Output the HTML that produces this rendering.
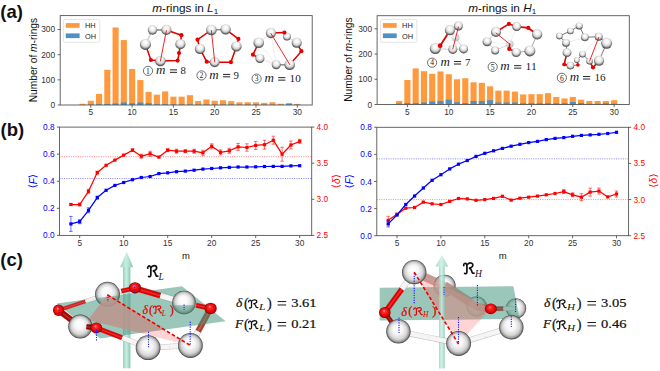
<!DOCTYPE html><html><head><meta charset="utf-8"><style>html,body{margin:0;padding:0;background:#fff;}svg{display:block;}</style></head><body>
<svg width="660" height="371" viewBox="0 0 660 371">
<rect width="660" height="371" fill="#fff"/>
<defs>
<radialGradient id="sph" cx="0.5" cy="0.42" r="0.6" fx="0.5" fy="0.3">
<stop offset="0" stop-color="#ffffff"/><stop offset="0.35" stop-color="#f4f4f4"/><stop offset="0.62" stop-color="#d2d2d2"/><stop offset="0.8" stop-color="#808080"/><stop offset="1" stop-color="#303030"/></radialGradient>
<radialGradient id="oxy" cx="0.38" cy="0.32" r="0.75">
<stop offset="0" stop-color="#ff8080"/><stop offset="0.4" stop-color="#f00000"/><stop offset="1" stop-color="#9a0000"/></radialGradient>
<radialGradient id="sphg" cx="0.38" cy="0.32" r="0.75">
<stop offset="0" stop-color="#ffffff" stop-opacity="0.7"/><stop offset="1" stop-color="#999" stop-opacity="0.7"/></radialGradient>
</defs>
<defs>
<radialGradient id="big" cx="0.5" cy="0.5" r="0.5" fx="0.45" fy="0.36">
<stop offset="0" stop-color="#ffffff"/><stop offset="0.4" stop-color="#f7f7f7"/><stop offset="0.72" stop-color="#d6d6d6"/><stop offset="0.88" stop-color="#a0a0a0"/><stop offset="1" stop-color="#3c3c3c"/></radialGradient>
<radialGradient id="redb" cx="0.5" cy="0.5" r="0.5" fx="0.42" fy="0.34">
<stop offset="0" stop-color="#ffb0b0"/><stop offset="0.25" stop-color="#ff2a2a"/><stop offset="0.8" stop-color="#e00000"/><stop offset="1" stop-color="#700000"/></radialGradient>
<clipPath id="planeL"><polygon points="56.6,303.6 182,286.3 225.7,321.3 100,338.5"/></clipPath>
<clipPath id="planeR"><polygon points="379.7,287.8 513.4,286.2 519.5,318.8 379.7,320.6"/></clipPath>
<clipPath id="lowTL"><polygon points="90,299 125,294.5 125,310 90,310"/></clipPath><clipPath id="lowTR"><rect x="160" y="305.2" width="50" height="20"/></clipPath>
<linearGradient id="arrowg" x1="0" x2="1" y1="0" y2="0">
<stop offset="0" stop-color="#8fd1bd"/><stop offset="0.45" stop-color="#c9efe3"/><stop offset="1" stop-color="#86c9b4"/></linearGradient>
</defs>
<text x="0.3" y="18.3" font-size="18.5" fill="#111" text-anchor="start" font-family='"Liberation Sans", sans-serif' font-weight="bold" font-style="normal" >(a)</text>
<text x="0.5" y="136.3" font-size="18.5" fill="#111" text-anchor="start" font-family='"Liberation Sans", sans-serif' font-weight="bold" font-style="normal" >(b)</text>
<text x="0.3" y="265.8" font-size="18.5" fill="#111" text-anchor="start" font-family='"Liberation Sans", sans-serif' font-weight="bold" font-style="normal" >(c)</text>
<rect x="79.48" y="103.74" width="6.11" height="1.26" fill="#ff993e"/>
<rect x="87.74" y="100.72" width="6.11" height="4.28" fill="#ff993e"/>
<rect x="96" y="93.93" width="6.11" height="11.07" fill="#ff993e"/>
<rect x="104.26" y="69.76" width="6.11" height="35.24" fill="#ff993e"/>
<rect x="112.52" y="27.48" width="6.11" height="77.52" fill="#ff993e"/>
<rect x="120.78" y="40.06" width="6.11" height="64.94" fill="#ff993e"/>
<rect x="129.04" y="69.01" width="6.11" height="35.99" fill="#ff993e"/>
<rect x="137.3" y="80.08" width="6.11" height="24.92" fill="#ff993e"/>
<rect x="145.56" y="91.91" width="6.11" height="13.09" fill="#ff993e"/>
<rect x="153.82" y="94.68" width="6.11" height="10.32" fill="#ff993e"/>
<rect x="162.08" y="91.41" width="6.11" height="13.59" fill="#ff993e"/>
<rect x="170.34" y="96.69" width="6.11" height="8.31" fill="#ff993e"/>
<rect x="178.6" y="96.69" width="6.11" height="8.31" fill="#ff993e"/>
<rect x="186.86" y="95.18" width="6.11" height="9.82" fill="#ff993e"/>
<rect x="195.12" y="100.97" width="6.11" height="4.03" fill="#ff993e"/>
<rect x="203.38" y="99.46" width="6.11" height="5.54" fill="#ff993e"/>
<rect x="211.64" y="100.72" width="6.11" height="4.28" fill="#ff993e"/>
<rect x="219.9" y="100.22" width="6.11" height="4.78" fill="#ff993e"/>
<rect x="228.16" y="101.1" width="6.11" height="3.9" fill="#ff993e"/>
<rect x="236.42" y="102.31" width="6.11" height="2.69" fill="#ff993e"/>
<rect x="244.68" y="102.23" width="6.11" height="2.77" fill="#ff993e"/>
<rect x="252.94" y="102.31" width="6.11" height="2.69" fill="#ff993e"/>
<rect x="261.2" y="102.86" width="6.11" height="2.14" fill="#ff993e"/>
<rect x="269.46" y="102.23" width="6.11" height="2.77" fill="#ff993e"/>
<rect x="277.72" y="103.74" width="6.11" height="1.26" fill="#ff993e"/>
<rect x="285.98" y="102.99" width="6.11" height="2.01" fill="#ff993e"/>
<rect x="294.24" y="103.87" width="6.11" height="1.13" fill="#ff993e"/>
<rect x="87.74" y="104.62" width="6.11" height="0.38" fill="#4c92c3"/>
<rect x="96" y="104.24" width="6.11" height="0.76" fill="#4c92c3"/>
<rect x="104.26" y="103.99" width="6.11" height="1.01" fill="#4c92c3"/>
<rect x="112.52" y="103.49" width="6.11" height="1.51" fill="#4c92c3"/>
<rect x="120.78" y="102.48" width="6.11" height="2.52" fill="#4c92c3"/>
<rect x="129.04" y="103.24" width="6.11" height="1.76" fill="#4c92c3"/>
<rect x="137.3" y="102.48" width="6.11" height="2.52" fill="#4c92c3"/>
<rect x="145.56" y="103.24" width="6.11" height="1.76" fill="#4c92c3"/>
<rect x="153.82" y="104.24" width="6.11" height="0.76" fill="#4c92c3"/>
<rect x="162.08" y="104.24" width="6.11" height="0.76" fill="#4c92c3"/>
<rect x="170.34" y="104.5" width="6.11" height="0.5" fill="#4c92c3"/>
<rect x="178.6" y="104.5" width="6.11" height="0.5" fill="#4c92c3"/>
<rect x="186.86" y="104.5" width="6.11" height="0.5" fill="#4c92c3"/>
<rect x="195.12" y="104.62" width="6.11" height="0.38" fill="#4c92c3"/>
<rect x="203.38" y="104.62" width="6.11" height="0.38" fill="#4c92c3"/>
<rect x="211.64" y="104.62" width="6.11" height="0.38" fill="#4c92c3"/>
<rect x="219.9" y="104.62" width="6.11" height="0.38" fill="#4c92c3"/>
<rect x="228.16" y="104.62" width="6.11" height="0.38" fill="#4c92c3"/>
<rect x="236.42" y="104.75" width="6.11" height="0.25" fill="#4c92c3"/>
<rect x="244.68" y="104.75" width="6.11" height="0.25" fill="#4c92c3"/>
<rect x="252.94" y="104.62" width="6.11" height="0.38" fill="#4c92c3"/>
<rect x="261.2" y="104.75" width="6.11" height="0.25" fill="#4c92c3"/>
<rect x="269.46" y="104.75" width="6.11" height="0.25" fill="#4c92c3"/>
<rect x="277.72" y="104.75" width="6.11" height="0.25" fill="#4c92c3"/>
<rect x="285.98" y="103.99" width="6.11" height="1.01" fill="#4c92c3"/>
<rect x="294.24" y="104.75" width="6.11" height="0.25" fill="#4c92c3"/>
<rect x="60.2" y="15.6" width="252" height="89.4" fill="none" stroke="#555555" stroke-width="0.9"/>
<line x1="57.6" y1="105" x2="60.2" y2="105" stroke="#555555" stroke-width="0.9"/>
<text x="55.1" y="108" font-size="8.3" fill="#333" text-anchor="end" font-family='"Liberation Sans", sans-serif' font-weight="normal" font-style="normal" >0</text>
<line x1="57.6" y1="79.83" x2="60.2" y2="79.83" stroke="#555555" stroke-width="0.9"/>
<text x="55.1" y="82.83" font-size="8.3" fill="#333" text-anchor="end" font-family='"Liberation Sans", sans-serif' font-weight="normal" font-style="normal" >100</text>
<line x1="57.6" y1="54.66" x2="60.2" y2="54.66" stroke="#555555" stroke-width="0.9"/>
<text x="55.1" y="57.66" font-size="8.3" fill="#333" text-anchor="end" font-family='"Liberation Sans", sans-serif' font-weight="normal" font-style="normal" >200</text>
<line x1="57.6" y1="29.49" x2="60.2" y2="29.49" stroke="#555555" stroke-width="0.9"/>
<text x="55.1" y="32.49" font-size="8.3" fill="#333" text-anchor="end" font-family='"Liberation Sans", sans-serif' font-weight="normal" font-style="normal" >300</text>
<line x1="90.8" y1="105" x2="90.8" y2="107.6" stroke="#555555" stroke-width="0.9"/>
<text x="90.8" y="115.1" font-size="8.3" fill="#333" text-anchor="middle" font-family='"Liberation Sans", sans-serif' font-weight="normal" font-style="normal" >5</text>
<line x1="132.1" y1="105" x2="132.1" y2="107.6" stroke="#555555" stroke-width="0.9"/>
<text x="132.1" y="115.1" font-size="8.3" fill="#333" text-anchor="middle" font-family='"Liberation Sans", sans-serif' font-weight="normal" font-style="normal" >10</text>
<line x1="173.4" y1="105" x2="173.4" y2="107.6" stroke="#555555" stroke-width="0.9"/>
<text x="173.4" y="115.1" font-size="8.3" fill="#333" text-anchor="middle" font-family='"Liberation Sans", sans-serif' font-weight="normal" font-style="normal" >15</text>
<line x1="214.7" y1="105" x2="214.7" y2="107.6" stroke="#555555" stroke-width="0.9"/>
<text x="214.7" y="115.1" font-size="8.3" fill="#333" text-anchor="middle" font-family='"Liberation Sans", sans-serif' font-weight="normal" font-style="normal" >20</text>
<line x1="256" y1="105" x2="256" y2="107.6" stroke="#555555" stroke-width="0.9"/>
<text x="256" y="115.1" font-size="8.3" fill="#333" text-anchor="middle" font-family='"Liberation Sans", sans-serif' font-weight="normal" font-style="normal" >25</text>
<line x1="297.3" y1="105" x2="297.3" y2="107.6" stroke="#555555" stroke-width="0.9"/>
<text x="297.3" y="115.1" font-size="8.3" fill="#333" text-anchor="middle" font-family='"Liberation Sans", sans-serif' font-weight="normal" font-style="normal" >30</text>
<rect x="396.07" y="100.97" width="6.12" height="3.53" fill="#ff993e"/>
<rect x="404.34" y="80.03" width="6.12" height="24.47" fill="#ff993e"/>
<rect x="412.61" y="68.42" width="6.12" height="36.08" fill="#ff993e"/>
<rect x="420.88" y="71.2" width="6.12" height="33.3" fill="#ff993e"/>
<rect x="429.15" y="73.72" width="6.12" height="30.78" fill="#ff993e"/>
<rect x="437.42" y="71.45" width="6.12" height="33.05" fill="#ff993e"/>
<rect x="445.69" y="74.22" width="6.12" height="30.28" fill="#ff993e"/>
<rect x="453.96" y="79.27" width="6.12" height="25.23" fill="#ff993e"/>
<rect x="462.23" y="78.26" width="6.12" height="26.24" fill="#ff993e"/>
<rect x="470.5" y="82.3" width="6.12" height="22.2" fill="#ff993e"/>
<rect x="478.77" y="82.8" width="6.12" height="21.7" fill="#ff993e"/>
<rect x="487.04" y="86.33" width="6.12" height="18.17" fill="#ff993e"/>
<rect x="495.31" y="90.62" width="6.12" height="13.88" fill="#ff993e"/>
<rect x="503.58" y="90.62" width="6.12" height="13.88" fill="#ff993e"/>
<rect x="511.85" y="91.63" width="6.12" height="12.87" fill="#ff993e"/>
<rect x="520.12" y="94.41" width="6.12" height="10.09" fill="#ff993e"/>
<rect x="528.39" y="94.16" width="6.12" height="10.34" fill="#ff993e"/>
<rect x="536.66" y="94.16" width="6.12" height="10.34" fill="#ff993e"/>
<rect x="544.93" y="93.15" width="6.12" height="11.35" fill="#ff993e"/>
<rect x="553.2" y="96.93" width="6.12" height="7.57" fill="#ff993e"/>
<rect x="561.47" y="98.44" width="6.12" height="6.06" fill="#ff993e"/>
<rect x="569.74" y="96.93" width="6.12" height="7.57" fill="#ff993e"/>
<rect x="578.01" y="99.71" width="6.12" height="4.79" fill="#ff993e"/>
<rect x="586.28" y="100.97" width="6.12" height="3.53" fill="#ff993e"/>
<rect x="594.55" y="100.97" width="6.12" height="3.53" fill="#ff993e"/>
<rect x="602.82" y="100.97" width="6.12" height="3.53" fill="#ff993e"/>
<rect x="611.09" y="100.21" width="6.12" height="4.29" fill="#ff993e"/>
<rect x="396.07" y="103.49" width="6.12" height="1.01" fill="#4c92c3"/>
<rect x="404.34" y="102.99" width="6.12" height="1.51" fill="#4c92c3"/>
<rect x="412.61" y="102.99" width="6.12" height="1.51" fill="#4c92c3"/>
<rect x="420.88" y="102.48" width="6.12" height="2.02" fill="#4c92c3"/>
<rect x="429.15" y="101.47" width="6.12" height="3.03" fill="#4c92c3"/>
<rect x="437.42" y="100.97" width="6.12" height="3.53" fill="#4c92c3"/>
<rect x="445.69" y="99.71" width="6.12" height="4.79" fill="#4c92c3"/>
<rect x="453.96" y="102.23" width="6.12" height="2.27" fill="#4c92c3"/>
<rect x="462.23" y="102.99" width="6.12" height="1.51" fill="#4c92c3"/>
<rect x="470.5" y="100.97" width="6.12" height="3.53" fill="#4c92c3"/>
<rect x="478.77" y="100.97" width="6.12" height="3.53" fill="#4c92c3"/>
<rect x="487.04" y="100.21" width="6.12" height="4.29" fill="#4c92c3"/>
<rect x="495.31" y="102.48" width="6.12" height="2.02" fill="#4c92c3"/>
<rect x="503.58" y="102.48" width="6.12" height="2.02" fill="#4c92c3"/>
<rect x="511.85" y="102.48" width="6.12" height="2.02" fill="#4c92c3"/>
<rect x="520.12" y="103.24" width="6.12" height="1.26" fill="#4c92c3"/>
<rect x="528.39" y="103.24" width="6.12" height="1.26" fill="#4c92c3"/>
<rect x="536.66" y="103.24" width="6.12" height="1.26" fill="#4c92c3"/>
<rect x="544.93" y="103.24" width="6.12" height="1.26" fill="#4c92c3"/>
<rect x="553.2" y="103.24" width="6.12" height="1.26" fill="#4c92c3"/>
<rect x="561.47" y="103.24" width="6.12" height="1.26" fill="#4c92c3"/>
<rect x="569.74" y="101.98" width="6.12" height="2.52" fill="#4c92c3"/>
<rect x="578.01" y="102.99" width="6.12" height="1.51" fill="#4c92c3"/>
<rect x="586.28" y="103.74" width="6.12" height="0.76" fill="#4c92c3"/>
<rect x="594.55" y="103.74" width="6.12" height="0.76" fill="#4c92c3"/>
<rect x="602.82" y="103.24" width="6.12" height="1.26" fill="#4c92c3"/>
<rect x="611.09" y="103.74" width="6.12" height="0.76" fill="#4c92c3"/>
<rect x="377.1" y="15.7" width="252.2" height="88.8" fill="none" stroke="#555555" stroke-width="0.9"/>
<line x1="374.5" y1="104.5" x2="377.1" y2="104.5" stroke="#555555" stroke-width="0.9"/>
<text x="372" y="107.5" font-size="8.3" fill="#333" text-anchor="end" font-family='"Liberation Sans", sans-serif' font-weight="normal" font-style="normal" >0</text>
<line x1="374.5" y1="79.27" x2="377.1" y2="79.27" stroke="#555555" stroke-width="0.9"/>
<text x="372" y="82.27" font-size="8.3" fill="#333" text-anchor="end" font-family='"Liberation Sans", sans-serif' font-weight="normal" font-style="normal" >100</text>
<line x1="374.5" y1="54.04" x2="377.1" y2="54.04" stroke="#555555" stroke-width="0.9"/>
<text x="372" y="57.04" font-size="8.3" fill="#333" text-anchor="end" font-family='"Liberation Sans", sans-serif' font-weight="normal" font-style="normal" >200</text>
<line x1="374.5" y1="28.81" x2="377.1" y2="28.81" stroke="#555555" stroke-width="0.9"/>
<text x="372" y="31.81" font-size="8.3" fill="#333" text-anchor="end" font-family='"Liberation Sans", sans-serif' font-weight="normal" font-style="normal" >300</text>
<line x1="407.4" y1="104.5" x2="407.4" y2="107.1" stroke="#555555" stroke-width="0.9"/>
<text x="407.4" y="114.6" font-size="8.3" fill="#333" text-anchor="middle" font-family='"Liberation Sans", sans-serif' font-weight="normal" font-style="normal" >5</text>
<line x1="448.75" y1="104.5" x2="448.75" y2="107.1" stroke="#555555" stroke-width="0.9"/>
<text x="448.75" y="114.6" font-size="8.3" fill="#333" text-anchor="middle" font-family='"Liberation Sans", sans-serif' font-weight="normal" font-style="normal" >10</text>
<line x1="490.1" y1="104.5" x2="490.1" y2="107.1" stroke="#555555" stroke-width="0.9"/>
<text x="490.1" y="114.6" font-size="8.3" fill="#333" text-anchor="middle" font-family='"Liberation Sans", sans-serif' font-weight="normal" font-style="normal" >15</text>
<line x1="531.45" y1="104.5" x2="531.45" y2="107.1" stroke="#555555" stroke-width="0.9"/>
<text x="531.45" y="114.6" font-size="8.3" fill="#333" text-anchor="middle" font-family='"Liberation Sans", sans-serif' font-weight="normal" font-style="normal" >20</text>
<line x1="572.8" y1="104.5" x2="572.8" y2="107.1" stroke="#555555" stroke-width="0.9"/>
<text x="572.8" y="114.6" font-size="8.3" fill="#333" text-anchor="middle" font-family='"Liberation Sans", sans-serif' font-weight="normal" font-style="normal" >25</text>
<line x1="614.15" y1="104.5" x2="614.15" y2="107.1" stroke="#555555" stroke-width="0.9"/>
<text x="614.15" y="114.6" font-size="8.3" fill="#333" text-anchor="middle" font-family='"Liberation Sans", sans-serif' font-weight="normal" font-style="normal" >30</text>
<rect x="63.4" y="19.4" width="36.4" height="22.9" rx="1.5" fill="#fff" fill-opacity="0.85" stroke="#dadada" stroke-width="0.7"/>
<rect x="65.8" y="23.1" width="13.8" height="4.7" fill="#ff993e"/>
<rect x="65.8" y="33.4" width="13.8" height="4.7" fill="#4c92c3"/>
<text x="85" y="28.3" font-size="7.4" fill="#222" text-anchor="start" font-family='"Liberation Sans", sans-serif' font-weight="normal" font-style="normal" >HH</text>
<text x="85" y="38.6" font-size="7.4" fill="#222" text-anchor="start" font-family='"Liberation Sans", sans-serif' font-weight="normal" font-style="normal" >OH</text>
<rect x="380.5" y="19.4" width="36.4" height="22.9" rx="1.5" fill="#fff" fill-opacity="0.85" stroke="#dadada" stroke-width="0.7"/>
<rect x="382.9" y="23.1" width="13.8" height="4.7" fill="#ff993e"/>
<rect x="382.9" y="33.4" width="13.8" height="4.7" fill="#4c92c3"/>
<text x="402.1" y="28.3" font-size="7.4" fill="#222" text-anchor="start" font-family='"Liberation Sans", sans-serif' font-weight="normal" font-style="normal" >HH</text>
<text x="402.1" y="38.6" font-size="7.4" fill="#222" text-anchor="start" font-family='"Liberation Sans", sans-serif' font-weight="normal" font-style="normal" >OH</text>
<text transform="translate(36.8,60.1) rotate(-90)" font-size="10.2" fill="#111" text-anchor="middle" font-family='"Liberation Sans", sans-serif'>Number of <tspan font-style="italic">m</tspan>-rings</text>
<text transform="translate(352.3,59.6) rotate(-90)" font-size="10.2" fill="#111" text-anchor="middle" font-family='"Liberation Sans", sans-serif'>Number of <tspan font-style="italic">m</tspan>-rings</text>
<text x="152.2" y="11.8" font-size="10.2" fill="#111" font-family='"Liberation Sans", sans-serif' textLength="66" lengthAdjust="spacingAndGlyphs"><tspan font-style="italic">m</tspan>-rings in <tspan font-style="italic">L</tspan><tspan font-size="7" dy="1.8">1</tspan></text>
<text x="468.2" y="11.8" font-size="10.2" fill="#111" font-family='"Liberation Sans", sans-serif' textLength="68" lengthAdjust="spacingAndGlyphs"><tspan font-style="italic">m</tspan>-rings in <tspan font-style="italic">H</tspan><tspan font-size="7" dy="1.8">1</tspan></text>
<polyline points="152.5,30 145.4,44.4 150.9,60 160.4,61 177.6,60.6 180.4,44.2 181.4,35.2 166.4,30 152.5,30" fill="none" stroke="#cfcfcf" stroke-width="0.6" stroke-opacity="1" stroke-linecap="round" stroke-linejoin="round"/>
<polyline points="145.4,44.4 166.4,30" fill="none" stroke="#e2e2e2" stroke-width="0.5" stroke-opacity="1" stroke-linecap="round" stroke-linejoin="round"/>
<polyline points="152.5,30 166.4,30" fill="none" stroke="#8a8a8a" stroke-width="1.3" stroke-opacity="1" stroke-linecap="round" stroke-linejoin="round"/>
<polyline points="152.5,30 145.4,44.4" fill="none" stroke="#d0d0d0" stroke-width="1.3" stroke-opacity="1" stroke-linecap="round" stroke-linejoin="round"/>
<polyline points="166.4,30 181.4,35.2 180.4,44.2" fill="none" stroke="#e00000" stroke-width="1.5" stroke-opacity="1" stroke-linecap="round" stroke-linejoin="round"/>
<polyline points="180.4,44.2 179,54 177.6,60.6 160.4,61" fill="none" stroke="#e00000" stroke-width="1.5" stroke-opacity="1" stroke-linecap="round" stroke-linejoin="round"/>
<polyline points="145.4,44.4 150.9,60 160.4,61" fill="none" stroke="#e00000" stroke-width="1.5" stroke-opacity="1" stroke-linecap="round" stroke-linejoin="round"/>
<circle cx="152.5" cy="30" r="4.73" fill="url(#sph)"/>
<circle cx="166.4" cy="30" r="5.06" fill="url(#sph)"/>
<circle cx="145.4" cy="44.4" r="5.5" fill="url(#sph)"/>
<circle cx="180.4" cy="44.2" r="5.06" fill="url(#sph)"/>
<circle cx="160.4" cy="61" r="5.28" fill="url(#sph)"/>
<circle cx="181.4" cy="35.2" r="2.08" fill="#e80000"/>
<circle cx="150.9" cy="60" r="2.08" fill="#e80000"/>
<circle cx="177.6" cy="60.6" r="2.08" fill="#e80000"/>
<circle cx="179" cy="53" r="2.08" fill="#e80000"/>
<polyline points="166.4,30.5 160.4,61" fill="none" stroke="#e81010" stroke-width="0.9" stroke-opacity="1" stroke-linecap="round" stroke-linejoin="round"/>
<polyline points="211.4,30 225.6,29.4 238.4,38.9 236.4,46.4 230.9,62.2 214.7,62.2 206.7,61.7 200,48.9 197.5,39.7 211.4,30" fill="none" stroke="#d8d8d8" stroke-width="0.6" stroke-opacity="1" stroke-linecap="round" stroke-linejoin="round"/>
<polyline points="211.4,30 225.6,29.4" fill="none" stroke="#8a8a8a" stroke-width="1.3" stroke-opacity="1" stroke-linecap="round" stroke-linejoin="round"/>
<polyline points="211.4,30 197.5,39.7 200,48.9" fill="none" stroke="#e00000" stroke-width="1.5" stroke-opacity="1" stroke-linecap="round" stroke-linejoin="round"/>
<polyline points="225.6,29.4 238.4,38.9 236.4,46.4" fill="none" stroke="#e00000" stroke-width="1.5" stroke-opacity="1" stroke-linecap="round" stroke-linejoin="round"/>
<polyline points="200,48.9 206.7,61.7 214.7,62.2" fill="none" stroke="#e00000" stroke-width="1.5" stroke-opacity="1" stroke-linecap="round" stroke-linejoin="round"/>
<polyline points="214.7,62.2 230.9,62.2 236.4,46.4" fill="none" stroke="#e00000" stroke-width="1.5" stroke-opacity="1" stroke-linecap="round" stroke-linejoin="round"/>
<circle cx="211.4" cy="30" r="5.28" fill="url(#sph)"/>
<circle cx="225.6" cy="29.4" r="5.17" fill="url(#sph)"/>
<circle cx="200" cy="48.9" r="5.17" fill="url(#sph)"/>
<circle cx="236.4" cy="46.4" r="5.17" fill="url(#sph)"/>
<circle cx="214.7" cy="62.2" r="4.95" fill="url(#sph)"/>
<circle cx="197.5" cy="39.7" r="2.08" fill="#e80000"/>
<circle cx="238.4" cy="38.9" r="2.08" fill="#e80000"/>
<circle cx="206.7" cy="61.7" r="2.08" fill="#e80000"/>
<circle cx="230.9" cy="62.2" r="2.08" fill="#e80000"/>
<polyline points="211.4,30.5 214.7,62" fill="none" stroke="#e81010" stroke-width="0.9" stroke-opacity="1" stroke-linecap="round" stroke-linejoin="round"/>
<polyline points="258.7,42.8 276.2,64.7" fill="none" stroke="#dddddd" stroke-width="0.5" stroke-opacity="1" stroke-linecap="round" stroke-linejoin="round"/>
<polyline points="270.9,33.1 276.2,64.7" fill="none" stroke="#dddddd" stroke-width="0.5" stroke-opacity="1" stroke-linecap="round" stroke-linejoin="round"/>
<polyline points="270.9,33.1 258.7,42.8 252.9,54.7 259.9,58.5 276.2,64.7 289.7,64.7 301.4,51.2 296.7,42.8 287,36.6 284.4,32.6 270.9,33.1" fill="none" stroke="#d8d8d8" stroke-width="0.7" stroke-opacity="1" stroke-linecap="round" stroke-linejoin="round"/>
<polyline points="276.2,64.7 289.7,64.7" fill="none" stroke="#8a8a8a" stroke-width="1.4" stroke-opacity="1" stroke-linecap="round" stroke-linejoin="round"/>
<polyline points="270.9,33.1 284.4,32.6 287,36.6" fill="none" stroke="#e00000" stroke-width="1.5" stroke-opacity="1" stroke-linecap="round" stroke-linejoin="round"/>
<polyline points="296.7,42.8 301.4,51.2 289.7,64.7" fill="none" stroke="#e00000" stroke-width="1.5" stroke-opacity="1" stroke-linecap="round" stroke-linejoin="round"/>
<polyline points="258.7,42.8 252.9,54.7 259.9,58.5" fill="none" stroke="#e00000" stroke-width="1.5" stroke-opacity="1" stroke-linecap="round" stroke-linejoin="round"/>
<circle cx="287" cy="36.6" r="3.96" fill="url(#sph)"/>
<circle cx="270.9" cy="33.1" r="5.06" fill="url(#sph)"/>
<circle cx="258.7" cy="42.8" r="5.28" fill="url(#sph)"/>
<circle cx="259.9" cy="58.5" r="4.51" fill="url(#sph)"/>
<circle cx="276.2" cy="64.7" r="4.51" fill="url(#sph)"/>
<circle cx="289.7" cy="64.7" r="5.28" fill="url(#sph)"/>
<circle cx="296.7" cy="42.8" r="5.06" fill="url(#sph)"/>
<circle cx="284.4" cy="32.6" r="2.08" fill="#e80000"/>
<circle cx="301.4" cy="51.2" r="2.08" fill="#e80000"/>
<circle cx="252.9" cy="54.7" r="2.08" fill="#e80000"/>
<polyline points="270.9,33.5 289.7,64.5" fill="none" stroke="#e81010" stroke-width="0.9" stroke-opacity="1" stroke-linecap="round" stroke-linejoin="round"/>
<polyline points="435.3,48.6 452.8,49.4 463.6,48.9 455.5,37.6" fill="none" stroke="#c8c8c8" stroke-width="0.8" stroke-opacity="1" stroke-linecap="round" stroke-linejoin="round"/>
<circle cx="455.5" cy="37.6" r="3.96" fill="url(#sphg)"/>
<polyline points="447,35 440.2,45.7 435.3,48.6" fill="none" stroke="#e00000" stroke-width="1.8" stroke-opacity="1" stroke-linecap="round" stroke-linejoin="round"/>
<circle cx="449.9" cy="30.3" r="5.06" fill="url(#sph)"/>
<circle cx="458.4" cy="26" r="4.51" fill="url(#sph)"/>
<circle cx="435.3" cy="48.6" r="5.5" fill="url(#sph)"/>
<circle cx="452.8" cy="49.4" r="4.51" fill="url(#sph)"/>
<circle cx="463.6" cy="48.9" r="4.51" fill="url(#sph)"/>
<circle cx="440.2" cy="45.7" r="2.34" fill="#e80000"/>
<polyline points="458.4,27 452.8,49" fill="none" stroke="#e81010" stroke-width="0.9" stroke-opacity="1" stroke-linecap="round" stroke-linejoin="round"/>
<polyline points="487.1,41.7 496,32" fill="none" stroke="#cccccc" stroke-width="0.9" stroke-opacity="1" stroke-linecap="round" stroke-linejoin="round"/>
<polyline points="487.1,41.7 495.2,50.5 509.7,44.1" fill="none" stroke="#d0d0d0" stroke-width="0.9" stroke-opacity="1" stroke-linecap="round" stroke-linejoin="round"/>
<polyline points="487.1,41.7 509.7,44.1" fill="none" stroke="#e5e5e5" stroke-width="0.5" stroke-opacity="1" stroke-linecap="round" stroke-linejoin="round"/>
<polyline points="516.7,26.6 509.7,44.1" fill="none" stroke="#e5e5e5" stroke-width="0.5" stroke-opacity="1" stroke-linecap="round" stroke-linejoin="round"/>
<polyline points="516.2,52.5 529.9,50.9 537.2,34.4" fill="none" stroke="#a0a0a0" stroke-width="0.9" stroke-opacity="1" stroke-linecap="round" stroke-linejoin="round"/>
<polyline points="496,32 508.9,23.9 516.7,26.6" fill="none" stroke="#e00000" stroke-width="1.6" stroke-opacity="1" stroke-linecap="round" stroke-linejoin="round"/>
<polyline points="516.7,26.6 528.3,27.9 537.2,34.4" fill="none" stroke="#e00000" stroke-width="1.8" stroke-opacity="1" stroke-linecap="round" stroke-linejoin="round"/>
<circle cx="509.7" cy="44.1" r="3.96" fill="url(#sphg)"/>
<polyline points="509.7,44.1 509.2,48.9 516.2,52.5" fill="none" stroke="#e00000" stroke-width="1.5" stroke-opacity="1" stroke-linecap="round" stroke-linejoin="round"/>
<circle cx="496" cy="32" r="5.06" fill="url(#sph)"/>
<circle cx="516.7" cy="26.6" r="4.51" fill="url(#sph)"/>
<circle cx="537.2" cy="34.4" r="5.06" fill="url(#sph)"/>
<circle cx="487.1" cy="41.7" r="4.51" fill="url(#sph)"/>
<circle cx="495.2" cy="50.5" r="3.96" fill="url(#sph)"/>
<circle cx="516.2" cy="52.5" r="4.62" fill="url(#sph)"/>
<circle cx="529.9" cy="50.9" r="5.5" fill="url(#sph)"/>
<circle cx="508.9" cy="23.9" r="2.08" fill="#e80000"/>
<circle cx="528.3" cy="27.9" r="2.08" fill="#e80000"/>
<circle cx="509.2" cy="48.9" r="2.08" fill="#e80000"/>
<polyline points="496,33 509.7,44.1" fill="none" stroke="#e81010" stroke-width="0.9" stroke-opacity="1" stroke-linecap="round" stroke-linejoin="round"/>
<polyline points="559.4,36.1 570.4,31 579.2,25.9 584.9,37.3 598.7,36.7 606.6,43.3 599,60.8 593,67.5 589.6,61.2 582.5,54.2 576.8,60.3 577.9,65 570.4,65.6 564.2,64.4 567,52.7 566,42.9 559.4,36.1" fill="none" stroke="#555555" stroke-width="0.8" stroke-opacity="1" stroke-linecap="round" stroke-linejoin="round"/>
<polyline points="566,42.9 584.9,37.3" fill="none" stroke="#dddddd" stroke-width="0.5" stroke-opacity="1" stroke-linecap="round" stroke-linejoin="round"/>
<polyline points="582.5,54.2 598.7,36.7" fill="none" stroke="#dddddd" stroke-width="0.5" stroke-opacity="1" stroke-linecap="round" stroke-linejoin="round"/>
<polyline points="599,60.8 593,67.5 589.6,61.2" fill="none" stroke="#e00000" stroke-width="1.5" stroke-opacity="1" stroke-linecap="round" stroke-linejoin="round"/>
<polyline points="567,52.7 564.2,64.4 570.4,65.6" fill="none" stroke="#e00000" stroke-width="1.5" stroke-opacity="1" stroke-linecap="round" stroke-linejoin="round"/>
<polyline points="576.8,60.3 577.9,65" fill="none" stroke="#e00000" stroke-width="1.3" stroke-opacity="1" stroke-linecap="round" stroke-linejoin="round"/>
<circle cx="559.4" cy="36.1" r="3.3" fill="url(#sph)"/>
<circle cx="570.4" cy="31" r="3.3" fill="url(#sph)"/>
<circle cx="579.2" cy="25.9" r="3.52" fill="url(#sph)"/>
<circle cx="584.9" cy="37.3" r="3.85" fill="url(#sph)"/>
<circle cx="598.7" cy="36.7" r="3.96" fill="url(#sph)"/>
<circle cx="606.6" cy="43.3" r="5.5" fill="url(#sph)"/>
<circle cx="566" cy="42.9" r="3.85" fill="url(#sph)"/>
<circle cx="567" cy="52.7" r="4.4" fill="url(#sph)"/>
<circle cx="582.5" cy="54.2" r="3.3" fill="url(#sph)"/>
<circle cx="576.8" cy="60.3" r="2.75" fill="url(#sph)"/>
<circle cx="570.4" cy="65.6" r="3.85" fill="url(#sph)"/>
<circle cx="589.6" cy="61.2" r="3.3" fill="url(#sph)"/>
<circle cx="599" cy="60.8" r="5.06" fill="url(#sph)"/>
<circle cx="564.2" cy="64.4" r="1.95" fill="#e80000"/>
<circle cx="577.9" cy="65" r="1.82" fill="#e80000"/>
<circle cx="593" cy="67.5" r="2.08" fill="#e80000"/>
<polyline points="598.7,37.5 589.6,61" fill="none" stroke="#e81010" stroke-width="0.9" stroke-opacity="1" stroke-linecap="round" stroke-linejoin="round"/>
<circle cx="148" cy="70.9" r="4.6" fill="none" stroke="#333" stroke-width="0.7"/>
<text x="148" y="73.6" font-size="7.6" fill="#222" text-anchor="middle" font-family='"Liberation Serif", serif' font-weight="normal" font-style="normal" >1</text>
<text x="156.1" y="74" font-family='"Liberation Serif", serif' font-size="12" font-style="italic" fill="#1a1a1a" textLength="9.4" lengthAdjust="spacingAndGlyphs">m</text>
<rect x="169.9" y="69.4" width="7.2" height="0.95" fill="#1a1a1a"/><rect x="169.9" y="71.85" width="7.2" height="0.95" fill="#1a1a1a"/>
<text x="180.5" y="74" font-family='"Liberation Serif", serif' font-size="10.8" fill="#1a1a1a">8</text>
<circle cx="201.5" cy="75.4" r="4.6" fill="none" stroke="#333" stroke-width="0.7"/>
<text x="201.5" y="78.1" font-size="7.6" fill="#222" text-anchor="middle" font-family='"Liberation Serif", serif' font-weight="normal" font-style="normal" >2</text>
<text x="209.2" y="78.5" font-family='"Liberation Serif", serif' font-size="12" font-style="italic" fill="#1a1a1a" textLength="9.4" lengthAdjust="spacingAndGlyphs">m</text>
<rect x="223" y="73.9" width="7.2" height="0.95" fill="#1a1a1a"/><rect x="223" y="76.35" width="7.2" height="0.95" fill="#1a1a1a"/>
<text x="233.6" y="78.5" font-family='"Liberation Serif", serif' font-size="10.8" fill="#1a1a1a">9</text>
<circle cx="256.6" cy="78.6" r="4.6" fill="none" stroke="#333" stroke-width="0.7"/>
<text x="256.6" y="81.3" font-size="7.6" fill="#222" text-anchor="middle" font-family='"Liberation Serif", serif' font-weight="normal" font-style="normal" >3</text>
<text x="264.4" y="81.8" font-family='"Liberation Serif", serif' font-size="12" font-style="italic" fill="#1a1a1a" textLength="9.4" lengthAdjust="spacingAndGlyphs">m</text>
<rect x="278.2" y="77.2" width="7.2" height="0.95" fill="#1a1a1a"/><rect x="278.2" y="79.65" width="7.2" height="0.95" fill="#1a1a1a"/>
<text x="289.6" y="81.8" font-family='"Liberation Serif", serif' font-size="10.8" fill="#1a1a1a" textLength="11.2" lengthAdjust="spacingAndGlyphs">10</text>
<circle cx="432.1" cy="62.7" r="4.6" fill="none" stroke="#333" stroke-width="0.7"/>
<text x="432.1" y="65.4" font-size="7.6" fill="#222" text-anchor="middle" font-family='"Liberation Serif", serif' font-weight="normal" font-style="normal" >4</text>
<text x="440.4" y="65.7" font-family='"Liberation Serif", serif' font-size="12" font-style="italic" fill="#1a1a1a" textLength="9.4" lengthAdjust="spacingAndGlyphs">m</text>
<rect x="453.9" y="61.1" width="7.2" height="0.95" fill="#1a1a1a"/><rect x="453.9" y="63.55" width="7.2" height="0.95" fill="#1a1a1a"/>
<text x="464.9" y="65.7" font-family='"Liberation Serif", serif' font-size="10.8" fill="#1a1a1a">7</text>
<circle cx="492.7" cy="66.9" r="4.6" fill="none" stroke="#333" stroke-width="0.7"/>
<text x="492.7" y="69.6" font-size="7.6" fill="#222" text-anchor="middle" font-family='"Liberation Serif", serif' font-weight="normal" font-style="normal" >5</text>
<text x="500.3" y="69.8" font-family='"Liberation Serif", serif' font-size="12" font-style="italic" fill="#1a1a1a" textLength="9.4" lengthAdjust="spacingAndGlyphs">m</text>
<rect x="514.1" y="65.2" width="7.2" height="0.95" fill="#1a1a1a"/><rect x="514.1" y="67.65" width="7.2" height="0.95" fill="#1a1a1a"/>
<text x="525.5" y="69.8" font-family='"Liberation Serif", serif' font-size="10.8" fill="#1a1a1a" textLength="11.2" lengthAdjust="spacingAndGlyphs">11</text>
<circle cx="561.9" cy="77.8" r="4.6" fill="none" stroke="#333" stroke-width="0.7"/>
<text x="561.9" y="80.5" font-size="7.6" fill="#222" text-anchor="middle" font-family='"Liberation Serif", serif' font-weight="normal" font-style="normal" >6</text>
<text x="569.7" y="80.7" font-family='"Liberation Serif", serif' font-size="12" font-style="italic" fill="#1a1a1a" textLength="9.4" lengthAdjust="spacingAndGlyphs">m</text>
<rect x="583" y="76.1" width="7.2" height="0.95" fill="#1a1a1a"/><rect x="583" y="78.55" width="7.2" height="0.95" fill="#1a1a1a"/>
<text x="594.4" y="80.7" font-family='"Liberation Serif", serif' font-size="10.8" fill="#1a1a1a" textLength="11.2" lengthAdjust="spacingAndGlyphs">16</text>
<line x1="59.5" y1="178.54" x2="311.7" y2="178.54" stroke="#4040ff" stroke-width="0.8" stroke-dasharray="1,1.3" stroke-opacity="0.8"/>
<line x1="59.5" y1="156.7" x2="311.7" y2="156.7" stroke="#ff4040" stroke-width="0.8" stroke-dasharray="1,1.3" stroke-opacity="0.8"/>
<rect x="59.5" y="127.1" width="252.2" height="108.3" fill="none" stroke="#555555" stroke-width="0.9"/>
<line x1="56.9" y1="235.4" x2="59.5" y2="235.4" stroke="#555555" stroke-width="0.9"/>
<text x="54.6" y="238.4" font-size="8.3" fill="#0000ff" text-anchor="end" font-family='"Liberation Sans", sans-serif' font-weight="normal" font-style="normal" >0.0</text>
<line x1="56.9" y1="208.32" x2="59.5" y2="208.32" stroke="#555555" stroke-width="0.9"/>
<text x="54.6" y="211.32" font-size="8.3" fill="#0000ff" text-anchor="end" font-family='"Liberation Sans", sans-serif' font-weight="normal" font-style="normal" >0.2</text>
<line x1="56.9" y1="181.25" x2="59.5" y2="181.25" stroke="#555555" stroke-width="0.9"/>
<text x="54.6" y="184.25" font-size="8.3" fill="#0000ff" text-anchor="end" font-family='"Liberation Sans", sans-serif' font-weight="normal" font-style="normal" >0.4</text>
<line x1="56.9" y1="154.18" x2="59.5" y2="154.18" stroke="#555555" stroke-width="0.9"/>
<text x="54.6" y="157.18" font-size="8.3" fill="#0000ff" text-anchor="end" font-family='"Liberation Sans", sans-serif' font-weight="normal" font-style="normal" >0.6</text>
<line x1="56.9" y1="127.1" x2="59.5" y2="127.1" stroke="#555555" stroke-width="0.9"/>
<text x="54.6" y="130.1" font-size="8.3" fill="#0000ff" text-anchor="end" font-family='"Liberation Sans", sans-serif' font-weight="normal" font-style="normal" >0.8</text>
<line x1="311.7" y1="235.4" x2="314.3" y2="235.4" stroke="#555555" stroke-width="0.9"/>
<text x="316.6" y="238.4" font-size="8.3" fill="#ff0000" text-anchor="start" font-family='"Liberation Sans", sans-serif' font-weight="normal" font-style="normal" >2.5</text>
<line x1="311.7" y1="199.3" x2="314.3" y2="199.3" stroke="#555555" stroke-width="0.9"/>
<text x="316.6" y="202.3" font-size="8.3" fill="#ff0000" text-anchor="start" font-family='"Liberation Sans", sans-serif' font-weight="normal" font-style="normal" >3.0</text>
<line x1="311.7" y1="163.2" x2="314.3" y2="163.2" stroke="#555555" stroke-width="0.9"/>
<text x="316.6" y="166.2" font-size="8.3" fill="#ff0000" text-anchor="start" font-family='"Liberation Sans", sans-serif' font-weight="normal" font-style="normal" >3.5</text>
<line x1="311.7" y1="127.1" x2="314.3" y2="127.1" stroke="#555555" stroke-width="0.9"/>
<text x="316.6" y="130.1" font-size="8.3" fill="#ff0000" text-anchor="start" font-family='"Liberation Sans", sans-serif' font-weight="normal" font-style="normal" >4.0</text>
<line x1="79.7" y1="235.4" x2="79.7" y2="238" stroke="#555555" stroke-width="0.9"/>
<text x="79.7" y="245.8" font-size="8.3" fill="#333" text-anchor="middle" font-family='"Liberation Sans", sans-serif' font-weight="normal" font-style="normal" >5</text>
<line x1="123.7" y1="235.4" x2="123.7" y2="238" stroke="#555555" stroke-width="0.9"/>
<text x="123.7" y="245.8" font-size="8.3" fill="#333" text-anchor="middle" font-family='"Liberation Sans", sans-serif' font-weight="normal" font-style="normal" >10</text>
<line x1="167.7" y1="235.4" x2="167.7" y2="238" stroke="#555555" stroke-width="0.9"/>
<text x="167.7" y="245.8" font-size="8.3" fill="#333" text-anchor="middle" font-family='"Liberation Sans", sans-serif' font-weight="normal" font-style="normal" >15</text>
<line x1="211.7" y1="235.4" x2="211.7" y2="238" stroke="#555555" stroke-width="0.9"/>
<text x="211.7" y="245.8" font-size="8.3" fill="#333" text-anchor="middle" font-family='"Liberation Sans", sans-serif' font-weight="normal" font-style="normal" >20</text>
<line x1="255.7" y1="235.4" x2="255.7" y2="238" stroke="#555555" stroke-width="0.9"/>
<text x="255.7" y="245.8" font-size="8.3" fill="#333" text-anchor="middle" font-family='"Liberation Sans", sans-serif' font-weight="normal" font-style="normal" >25</text>
<line x1="299.7" y1="235.4" x2="299.7" y2="238" stroke="#555555" stroke-width="0.9"/>
<text x="299.7" y="245.8" font-size="8.3" fill="#333" text-anchor="middle" font-family='"Liberation Sans", sans-serif' font-weight="normal" font-style="normal" >30</text>
<line x1="70.9" y1="203.5" x2="70.9" y2="205.5" stroke="#ff0000" stroke-width="0.8" stroke-opacity="0.7"/>
<line x1="69.1" y1="203.5" x2="72.7" y2="203.5" stroke="#ff0000" stroke-width="0.8" stroke-opacity="0.7"/>
<line x1="69.1" y1="205.5" x2="72.7" y2="205.5" stroke="#ff0000" stroke-width="0.8" stroke-opacity="0.7"/>
<line x1="79.7" y1="203" x2="79.7" y2="206" stroke="#ff0000" stroke-width="0.8" stroke-opacity="0.7"/>
<line x1="77.9" y1="203" x2="81.5" y2="203" stroke="#ff0000" stroke-width="0.8" stroke-opacity="0.7"/>
<line x1="77.9" y1="206" x2="81.5" y2="206" stroke="#ff0000" stroke-width="0.8" stroke-opacity="0.7"/>
<line x1="88.5" y1="189.3" x2="88.5" y2="193.3" stroke="#ff0000" stroke-width="0.8" stroke-opacity="0.7"/>
<line x1="86.7" y1="189.3" x2="90.3" y2="189.3" stroke="#ff0000" stroke-width="0.8" stroke-opacity="0.7"/>
<line x1="86.7" y1="193.3" x2="90.3" y2="193.3" stroke="#ff0000" stroke-width="0.8" stroke-opacity="0.7"/>
<line x1="97.3" y1="171.1" x2="97.3" y2="174.1" stroke="#ff0000" stroke-width="0.8" stroke-opacity="0.7"/>
<line x1="95.5" y1="171.1" x2="99.1" y2="171.1" stroke="#ff0000" stroke-width="0.8" stroke-opacity="0.7"/>
<line x1="95.5" y1="174.1" x2="99.1" y2="174.1" stroke="#ff0000" stroke-width="0.8" stroke-opacity="0.7"/>
<line x1="132.5" y1="148.7" x2="132.5" y2="151.7" stroke="#ff0000" stroke-width="0.8" stroke-opacity="0.7"/>
<line x1="130.7" y1="148.7" x2="134.3" y2="148.7" stroke="#ff0000" stroke-width="0.8" stroke-opacity="0.7"/>
<line x1="130.7" y1="151.7" x2="134.3" y2="151.7" stroke="#ff0000" stroke-width="0.8" stroke-opacity="0.7"/>
<line x1="141.3" y1="154.2" x2="141.3" y2="158.2" stroke="#ff0000" stroke-width="0.8" stroke-opacity="0.7"/>
<line x1="139.5" y1="154.2" x2="143.1" y2="154.2" stroke="#ff0000" stroke-width="0.8" stroke-opacity="0.7"/>
<line x1="139.5" y1="158.2" x2="143.1" y2="158.2" stroke="#ff0000" stroke-width="0.8" stroke-opacity="0.7"/>
<line x1="150.1" y1="151.3" x2="150.1" y2="156.3" stroke="#ff0000" stroke-width="0.8" stroke-opacity="0.7"/>
<line x1="148.3" y1="151.3" x2="151.9" y2="151.3" stroke="#ff0000" stroke-width="0.8" stroke-opacity="0.7"/>
<line x1="148.3" y1="156.3" x2="151.9" y2="156.3" stroke="#ff0000" stroke-width="0.8" stroke-opacity="0.7"/>
<line x1="167.7" y1="148.7" x2="167.7" y2="151.7" stroke="#ff0000" stroke-width="0.8" stroke-opacity="0.7"/>
<line x1="165.9" y1="148.7" x2="169.5" y2="148.7" stroke="#ff0000" stroke-width="0.8" stroke-opacity="0.7"/>
<line x1="165.9" y1="151.7" x2="169.5" y2="151.7" stroke="#ff0000" stroke-width="0.8" stroke-opacity="0.7"/>
<line x1="176.5" y1="149.2" x2="176.5" y2="153.2" stroke="#ff0000" stroke-width="0.8" stroke-opacity="0.7"/>
<line x1="174.7" y1="149.2" x2="178.3" y2="149.2" stroke="#ff0000" stroke-width="0.8" stroke-opacity="0.7"/>
<line x1="174.7" y1="153.2" x2="178.3" y2="153.2" stroke="#ff0000" stroke-width="0.8" stroke-opacity="0.7"/>
<line x1="185.3" y1="149.7" x2="185.3" y2="152.7" stroke="#ff0000" stroke-width="0.8" stroke-opacity="0.7"/>
<line x1="183.5" y1="149.7" x2="187.1" y2="149.7" stroke="#ff0000" stroke-width="0.8" stroke-opacity="0.7"/>
<line x1="183.5" y1="152.7" x2="187.1" y2="152.7" stroke="#ff0000" stroke-width="0.8" stroke-opacity="0.7"/>
<line x1="194.1" y1="149.2" x2="194.1" y2="153.2" stroke="#ff0000" stroke-width="0.8" stroke-opacity="0.7"/>
<line x1="192.3" y1="149.2" x2="195.9" y2="149.2" stroke="#ff0000" stroke-width="0.8" stroke-opacity="0.7"/>
<line x1="192.3" y1="153.2" x2="195.9" y2="153.2" stroke="#ff0000" stroke-width="0.8" stroke-opacity="0.7"/>
<line x1="202.9" y1="150.3" x2="202.9" y2="155.3" stroke="#ff0000" stroke-width="0.8" stroke-opacity="0.7"/>
<line x1="201.1" y1="150.3" x2="204.7" y2="150.3" stroke="#ff0000" stroke-width="0.8" stroke-opacity="0.7"/>
<line x1="201.1" y1="155.3" x2="204.7" y2="155.3" stroke="#ff0000" stroke-width="0.8" stroke-opacity="0.7"/>
<line x1="211.7" y1="143.8" x2="211.7" y2="148.8" stroke="#ff0000" stroke-width="0.8" stroke-opacity="0.7"/>
<line x1="209.9" y1="143.8" x2="213.5" y2="143.8" stroke="#ff0000" stroke-width="0.8" stroke-opacity="0.7"/>
<line x1="209.9" y1="148.8" x2="213.5" y2="148.8" stroke="#ff0000" stroke-width="0.8" stroke-opacity="0.7"/>
<line x1="220.5" y1="149.8" x2="220.5" y2="154.8" stroke="#ff0000" stroke-width="0.8" stroke-opacity="0.7"/>
<line x1="218.7" y1="149.8" x2="222.3" y2="149.8" stroke="#ff0000" stroke-width="0.8" stroke-opacity="0.7"/>
<line x1="218.7" y1="154.8" x2="222.3" y2="154.8" stroke="#ff0000" stroke-width="0.8" stroke-opacity="0.7"/>
<line x1="229.3" y1="148.3" x2="229.3" y2="153.3" stroke="#ff0000" stroke-width="0.8" stroke-opacity="0.7"/>
<line x1="227.5" y1="148.3" x2="231.1" y2="148.3" stroke="#ff0000" stroke-width="0.8" stroke-opacity="0.7"/>
<line x1="227.5" y1="153.3" x2="231.1" y2="153.3" stroke="#ff0000" stroke-width="0.8" stroke-opacity="0.7"/>
<line x1="238.1" y1="143.4" x2="238.1" y2="150.4" stroke="#ff0000" stroke-width="0.8" stroke-opacity="0.7"/>
<line x1="236.3" y1="143.4" x2="239.9" y2="143.4" stroke="#ff0000" stroke-width="0.8" stroke-opacity="0.7"/>
<line x1="236.3" y1="150.4" x2="239.9" y2="150.4" stroke="#ff0000" stroke-width="0.8" stroke-opacity="0.7"/>
<line x1="246.9" y1="143.8" x2="246.9" y2="151.2" stroke="#ff0000" stroke-width="0.8" stroke-opacity="0.7"/>
<line x1="245.1" y1="143.8" x2="248.7" y2="143.8" stroke="#ff0000" stroke-width="0.8" stroke-opacity="0.7"/>
<line x1="245.1" y1="151.2" x2="248.7" y2="151.2" stroke="#ff0000" stroke-width="0.8" stroke-opacity="0.7"/>
<line x1="255.7" y1="141.4" x2="255.7" y2="149.4" stroke="#ff0000" stroke-width="0.8" stroke-opacity="0.7"/>
<line x1="253.9" y1="141.4" x2="257.5" y2="141.4" stroke="#ff0000" stroke-width="0.8" stroke-opacity="0.7"/>
<line x1="253.9" y1="149.4" x2="257.5" y2="149.4" stroke="#ff0000" stroke-width="0.8" stroke-opacity="0.7"/>
<line x1="264.5" y1="140.2" x2="264.5" y2="149.2" stroke="#ff0000" stroke-width="0.8" stroke-opacity="0.7"/>
<line x1="262.7" y1="140.2" x2="266.3" y2="140.2" stroke="#ff0000" stroke-width="0.8" stroke-opacity="0.7"/>
<line x1="262.7" y1="149.2" x2="266.3" y2="149.2" stroke="#ff0000" stroke-width="0.8" stroke-opacity="0.7"/>
<line x1="273.3" y1="136.2" x2="273.3" y2="144.2" stroke="#ff0000" stroke-width="0.8" stroke-opacity="0.7"/>
<line x1="271.5" y1="136.2" x2="275.1" y2="136.2" stroke="#ff0000" stroke-width="0.8" stroke-opacity="0.7"/>
<line x1="271.5" y1="144.2" x2="275.1" y2="144.2" stroke="#ff0000" stroke-width="0.8" stroke-opacity="0.7"/>
<line x1="282.1" y1="147.2" x2="282.1" y2="161.2" stroke="#ff0000" stroke-width="0.8" stroke-opacity="0.7"/>
<line x1="280.3" y1="147.2" x2="283.9" y2="147.2" stroke="#ff0000" stroke-width="0.8" stroke-opacity="0.7"/>
<line x1="280.3" y1="161.2" x2="283.9" y2="161.2" stroke="#ff0000" stroke-width="0.8" stroke-opacity="0.7"/>
<line x1="290.9" y1="141" x2="290.9" y2="149" stroke="#ff0000" stroke-width="0.8" stroke-opacity="0.7"/>
<line x1="289.1" y1="141" x2="292.7" y2="141" stroke="#ff0000" stroke-width="0.8" stroke-opacity="0.7"/>
<line x1="289.1" y1="149" x2="292.7" y2="149" stroke="#ff0000" stroke-width="0.8" stroke-opacity="0.7"/>
<line x1="299.7" y1="139.3" x2="299.7" y2="143.3" stroke="#ff0000" stroke-width="0.8" stroke-opacity="0.7"/>
<line x1="297.9" y1="139.3" x2="301.5" y2="139.3" stroke="#ff0000" stroke-width="0.8" stroke-opacity="0.7"/>
<line x1="297.9" y1="143.3" x2="301.5" y2="143.3" stroke="#ff0000" stroke-width="0.8" stroke-opacity="0.7"/>
<polyline points="70.9,204.5 79.7,204.5 88.5,191.3 97.3,172.6 106.1,165.3 114.9,160.1 123.7,155.1 132.5,150.2 141.3,156.2 150.1,153.8 158.9,157.1 167.7,150.2 176.5,151.2 185.3,151.2 194.1,151.2 202.9,152.8 211.7,146.3 220.5,152.3 229.3,150.8 238.1,146.9 246.9,147.5 255.7,145.4 264.5,144.7 273.3,140.2 282.1,154.2 290.9,145 299.7,141.3" fill="none" stroke="#ff0000" stroke-width="1.25" stroke-opacity="1" stroke-linecap="round" stroke-linejoin="round"/>
<rect x="69.3" y="202.9" width="3.2" height="3.2" fill="#ff0000"/>
<rect x="78.1" y="202.9" width="3.2" height="3.2" fill="#ff0000"/>
<rect x="86.9" y="189.7" width="3.2" height="3.2" fill="#ff0000"/>
<rect x="95.7" y="171" width="3.2" height="3.2" fill="#ff0000"/>
<rect x="104.5" y="163.7" width="3.2" height="3.2" fill="#ff0000"/>
<rect x="113.3" y="158.5" width="3.2" height="3.2" fill="#ff0000"/>
<rect x="122.1" y="153.5" width="3.2" height="3.2" fill="#ff0000"/>
<rect x="130.9" y="148.6" width="3.2" height="3.2" fill="#ff0000"/>
<rect x="139.7" y="154.6" width="3.2" height="3.2" fill="#ff0000"/>
<rect x="148.5" y="152.2" width="3.2" height="3.2" fill="#ff0000"/>
<rect x="157.3" y="155.5" width="3.2" height="3.2" fill="#ff0000"/>
<rect x="166.1" y="148.6" width="3.2" height="3.2" fill="#ff0000"/>
<rect x="174.9" y="149.6" width="3.2" height="3.2" fill="#ff0000"/>
<rect x="183.7" y="149.6" width="3.2" height="3.2" fill="#ff0000"/>
<rect x="192.5" y="149.6" width="3.2" height="3.2" fill="#ff0000"/>
<rect x="201.3" y="151.2" width="3.2" height="3.2" fill="#ff0000"/>
<rect x="210.1" y="144.7" width="3.2" height="3.2" fill="#ff0000"/>
<rect x="218.9" y="150.7" width="3.2" height="3.2" fill="#ff0000"/>
<rect x="227.7" y="149.2" width="3.2" height="3.2" fill="#ff0000"/>
<rect x="236.5" y="145.3" width="3.2" height="3.2" fill="#ff0000"/>
<rect x="245.3" y="145.9" width="3.2" height="3.2" fill="#ff0000"/>
<rect x="254.1" y="143.8" width="3.2" height="3.2" fill="#ff0000"/>
<rect x="262.9" y="143.1" width="3.2" height="3.2" fill="#ff0000"/>
<rect x="271.7" y="138.6" width="3.2" height="3.2" fill="#ff0000"/>
<rect x="280.5" y="152.6" width="3.2" height="3.2" fill="#ff0000"/>
<rect x="289.3" y="143.4" width="3.2" height="3.2" fill="#ff0000"/>
<rect x="298.1" y="139.7" width="3.2" height="3.2" fill="#ff0000"/>
<line x1="70.9" y1="216.4" x2="70.9" y2="231.4" stroke="#0000ff" stroke-width="0.8" stroke-opacity="0.7"/>
<line x1="69.1" y1="216.4" x2="72.7" y2="216.4" stroke="#0000ff" stroke-width="0.8" stroke-opacity="0.7"/>
<line x1="69.1" y1="231.4" x2="72.7" y2="231.4" stroke="#0000ff" stroke-width="0.8" stroke-opacity="0.7"/>
<line x1="79.7" y1="219.7" x2="79.7" y2="223.7" stroke="#0000ff" stroke-width="0.8" stroke-opacity="0.7"/>
<line x1="77.9" y1="219.7" x2="81.5" y2="219.7" stroke="#0000ff" stroke-width="0.8" stroke-opacity="0.7"/>
<line x1="77.9" y1="223.7" x2="81.5" y2="223.7" stroke="#0000ff" stroke-width="0.8" stroke-opacity="0.7"/>
<line x1="88.5" y1="207.8" x2="88.5" y2="212.8" stroke="#0000ff" stroke-width="0.8" stroke-opacity="0.7"/>
<line x1="86.7" y1="207.8" x2="90.3" y2="207.8" stroke="#0000ff" stroke-width="0.8" stroke-opacity="0.7"/>
<line x1="86.7" y1="212.8" x2="90.3" y2="212.8" stroke="#0000ff" stroke-width="0.8" stroke-opacity="0.7"/>
<line x1="97.3" y1="196.1" x2="97.3" y2="199.1" stroke="#0000ff" stroke-width="0.8" stroke-opacity="0.7"/>
<line x1="95.5" y1="196.1" x2="99.1" y2="196.1" stroke="#0000ff" stroke-width="0.8" stroke-opacity="0.7"/>
<line x1="95.5" y1="199.1" x2="99.1" y2="199.1" stroke="#0000ff" stroke-width="0.8" stroke-opacity="0.7"/>
<polyline points="70.9,223.9 79.7,221.7 88.5,210.3 97.3,197.6 106.1,190.3 114.9,185.4 123.7,182.5 132.5,179.7 141.3,177.5 150.1,176.5 158.9,173.6 167.7,172.8 176.5,171.7 185.3,171.1 194.1,170.2 202.9,169.1 211.7,168.5 220.5,167.8 229.3,167.4 238.1,167 246.9,167 255.7,166.8 264.5,166.5 273.3,166.4 282.1,166.4 290.9,165.9 299.7,165.7" fill="none" stroke="#0000ff" stroke-width="1.25" stroke-opacity="1" stroke-linecap="round" stroke-linejoin="round"/>
<rect x="69.3" y="222.3" width="3.2" height="3.2" fill="#0000ff"/>
<rect x="78.1" y="220.1" width="3.2" height="3.2" fill="#0000ff"/>
<rect x="86.9" y="208.7" width="3.2" height="3.2" fill="#0000ff"/>
<rect x="95.7" y="196" width="3.2" height="3.2" fill="#0000ff"/>
<rect x="104.5" y="188.7" width="3.2" height="3.2" fill="#0000ff"/>
<rect x="113.3" y="183.8" width="3.2" height="3.2" fill="#0000ff"/>
<rect x="122.1" y="180.9" width="3.2" height="3.2" fill="#0000ff"/>
<rect x="130.9" y="178.1" width="3.2" height="3.2" fill="#0000ff"/>
<rect x="139.7" y="175.9" width="3.2" height="3.2" fill="#0000ff"/>
<rect x="148.5" y="174.9" width="3.2" height="3.2" fill="#0000ff"/>
<rect x="157.3" y="172" width="3.2" height="3.2" fill="#0000ff"/>
<rect x="166.1" y="171.2" width="3.2" height="3.2" fill="#0000ff"/>
<rect x="174.9" y="170.1" width="3.2" height="3.2" fill="#0000ff"/>
<rect x="183.7" y="169.5" width="3.2" height="3.2" fill="#0000ff"/>
<rect x="192.5" y="168.6" width="3.2" height="3.2" fill="#0000ff"/>
<rect x="201.3" y="167.5" width="3.2" height="3.2" fill="#0000ff"/>
<rect x="210.1" y="166.9" width="3.2" height="3.2" fill="#0000ff"/>
<rect x="218.9" y="166.2" width="3.2" height="3.2" fill="#0000ff"/>
<rect x="227.7" y="165.8" width="3.2" height="3.2" fill="#0000ff"/>
<rect x="236.5" y="165.4" width="3.2" height="3.2" fill="#0000ff"/>
<rect x="245.3" y="165.4" width="3.2" height="3.2" fill="#0000ff"/>
<rect x="254.1" y="165.2" width="3.2" height="3.2" fill="#0000ff"/>
<rect x="262.9" y="164.9" width="3.2" height="3.2" fill="#0000ff"/>
<rect x="271.7" y="164.8" width="3.2" height="3.2" fill="#0000ff"/>
<rect x="280.5" y="164.8" width="3.2" height="3.2" fill="#0000ff"/>
<rect x="289.3" y="164.3" width="3.2" height="3.2" fill="#0000ff"/>
<rect x="298.1" y="164.1" width="3.2" height="3.2" fill="#0000ff"/>
<line x1="376.8" y1="158.87" x2="628.6" y2="158.87" stroke="#4040ff" stroke-width="0.8" stroke-dasharray="1,1.3" stroke-opacity="0.8"/>
<line x1="376.8" y1="199.57" x2="628.6" y2="199.57" stroke="#ff4040" stroke-width="0.8" stroke-dasharray="1,1.3" stroke-opacity="0.8"/>
<rect x="376.8" y="127.3" width="251.8" height="108.4" fill="none" stroke="#555555" stroke-width="0.9"/>
<line x1="374.2" y1="235.7" x2="376.8" y2="235.7" stroke="#555555" stroke-width="0.9"/>
<text x="371.9" y="238.7" font-size="8.3" fill="#0000ff" text-anchor="end" font-family='"Liberation Sans", sans-serif' font-weight="normal" font-style="normal" >0.0</text>
<line x1="374.2" y1="208.6" x2="376.8" y2="208.6" stroke="#555555" stroke-width="0.9"/>
<text x="371.9" y="211.6" font-size="8.3" fill="#0000ff" text-anchor="end" font-family='"Liberation Sans", sans-serif' font-weight="normal" font-style="normal" >0.2</text>
<line x1="374.2" y1="181.5" x2="376.8" y2="181.5" stroke="#555555" stroke-width="0.9"/>
<text x="371.9" y="184.5" font-size="8.3" fill="#0000ff" text-anchor="end" font-family='"Liberation Sans", sans-serif' font-weight="normal" font-style="normal" >0.4</text>
<line x1="374.2" y1="154.4" x2="376.8" y2="154.4" stroke="#555555" stroke-width="0.9"/>
<text x="371.9" y="157.4" font-size="8.3" fill="#0000ff" text-anchor="end" font-family='"Liberation Sans", sans-serif' font-weight="normal" font-style="normal" >0.6</text>
<line x1="374.2" y1="127.3" x2="376.8" y2="127.3" stroke="#555555" stroke-width="0.9"/>
<text x="371.9" y="130.3" font-size="8.3" fill="#0000ff" text-anchor="end" font-family='"Liberation Sans", sans-serif' font-weight="normal" font-style="normal" >0.8</text>
<line x1="628.6" y1="235.7" x2="631.2" y2="235.7" stroke="#555555" stroke-width="0.9"/>
<text x="633.5" y="238.7" font-size="8.3" fill="#ff0000" text-anchor="start" font-family='"Liberation Sans", sans-serif' font-weight="normal" font-style="normal" >2.5</text>
<line x1="628.6" y1="199.57" x2="631.2" y2="199.57" stroke="#555555" stroke-width="0.9"/>
<text x="633.5" y="202.57" font-size="8.3" fill="#ff0000" text-anchor="start" font-family='"Liberation Sans", sans-serif' font-weight="normal" font-style="normal" >3.0</text>
<line x1="628.6" y1="163.43" x2="631.2" y2="163.43" stroke="#555555" stroke-width="0.9"/>
<text x="633.5" y="166.43" font-size="8.3" fill="#ff0000" text-anchor="start" font-family='"Liberation Sans", sans-serif' font-weight="normal" font-style="normal" >3.5</text>
<line x1="628.6" y1="127.3" x2="631.2" y2="127.3" stroke="#555555" stroke-width="0.9"/>
<text x="633.5" y="130.3" font-size="8.3" fill="#ff0000" text-anchor="start" font-family='"Liberation Sans", sans-serif' font-weight="normal" font-style="normal" >4.0</text>
<line x1="397" y1="235.7" x2="397" y2="238.3" stroke="#555555" stroke-width="0.9"/>
<text x="397" y="246.1" font-size="8.3" fill="#333" text-anchor="middle" font-family='"Liberation Sans", sans-serif' font-weight="normal" font-style="normal" >5</text>
<line x1="440.9" y1="235.7" x2="440.9" y2="238.3" stroke="#555555" stroke-width="0.9"/>
<text x="440.9" y="246.1" font-size="8.3" fill="#333" text-anchor="middle" font-family='"Liberation Sans", sans-serif' font-weight="normal" font-style="normal" >10</text>
<line x1="484.8" y1="235.7" x2="484.8" y2="238.3" stroke="#555555" stroke-width="0.9"/>
<text x="484.8" y="246.1" font-size="8.3" fill="#333" text-anchor="middle" font-family='"Liberation Sans", sans-serif' font-weight="normal" font-style="normal" >15</text>
<line x1="528.7" y1="235.7" x2="528.7" y2="238.3" stroke="#555555" stroke-width="0.9"/>
<text x="528.7" y="246.1" font-size="8.3" fill="#333" text-anchor="middle" font-family='"Liberation Sans", sans-serif' font-weight="normal" font-style="normal" >20</text>
<line x1="572.6" y1="235.7" x2="572.6" y2="238.3" stroke="#555555" stroke-width="0.9"/>
<text x="572.6" y="246.1" font-size="8.3" fill="#333" text-anchor="middle" font-family='"Liberation Sans", sans-serif' font-weight="normal" font-style="normal" >25</text>
<line x1="616.5" y1="235.7" x2="616.5" y2="238.3" stroke="#555555" stroke-width="0.9"/>
<text x="616.5" y="246.1" font-size="8.3" fill="#333" text-anchor="middle" font-family='"Liberation Sans", sans-serif' font-weight="normal" font-style="normal" >30</text>
<line x1="388.22" y1="216.3" x2="388.22" y2="224.3" stroke="#ff0000" stroke-width="0.8" stroke-opacity="0.7"/>
<line x1="386.42" y1="216.3" x2="390.02" y2="216.3" stroke="#ff0000" stroke-width="0.8" stroke-opacity="0.7"/>
<line x1="386.42" y1="224.3" x2="390.02" y2="224.3" stroke="#ff0000" stroke-width="0.8" stroke-opacity="0.7"/>
<line x1="563.82" y1="189.6" x2="563.82" y2="193.6" stroke="#ff0000" stroke-width="0.8" stroke-opacity="0.7"/>
<line x1="562.02" y1="189.6" x2="565.62" y2="189.6" stroke="#ff0000" stroke-width="0.8" stroke-opacity="0.7"/>
<line x1="562.02" y1="193.6" x2="565.62" y2="193.6" stroke="#ff0000" stroke-width="0.8" stroke-opacity="0.7"/>
<line x1="572.6" y1="192.8" x2="572.6" y2="196.8" stroke="#ff0000" stroke-width="0.8" stroke-opacity="0.7"/>
<line x1="570.8" y1="192.8" x2="574.4" y2="192.8" stroke="#ff0000" stroke-width="0.8" stroke-opacity="0.7"/>
<line x1="570.8" y1="196.8" x2="574.4" y2="196.8" stroke="#ff0000" stroke-width="0.8" stroke-opacity="0.7"/>
<line x1="581.38" y1="193.7" x2="581.38" y2="200.7" stroke="#ff0000" stroke-width="0.8" stroke-opacity="0.7"/>
<line x1="579.58" y1="193.7" x2="583.18" y2="193.7" stroke="#ff0000" stroke-width="0.8" stroke-opacity="0.7"/>
<line x1="579.58" y1="200.7" x2="583.18" y2="200.7" stroke="#ff0000" stroke-width="0.8" stroke-opacity="0.7"/>
<line x1="590.16" y1="188.1" x2="590.16" y2="196.1" stroke="#ff0000" stroke-width="0.8" stroke-opacity="0.7"/>
<line x1="588.36" y1="188.1" x2="591.96" y2="188.1" stroke="#ff0000" stroke-width="0.8" stroke-opacity="0.7"/>
<line x1="588.36" y1="196.1" x2="591.96" y2="196.1" stroke="#ff0000" stroke-width="0.8" stroke-opacity="0.7"/>
<line x1="598.94" y1="188.1" x2="598.94" y2="194.1" stroke="#ff0000" stroke-width="0.8" stroke-opacity="0.7"/>
<line x1="597.14" y1="188.1" x2="600.74" y2="188.1" stroke="#ff0000" stroke-width="0.8" stroke-opacity="0.7"/>
<line x1="597.14" y1="194.1" x2="600.74" y2="194.1" stroke="#ff0000" stroke-width="0.8" stroke-opacity="0.7"/>
<line x1="616.5" y1="191" x2="616.5" y2="197" stroke="#ff0000" stroke-width="0.8" stroke-opacity="0.7"/>
<line x1="614.7" y1="191" x2="618.3" y2="191" stroke="#ff0000" stroke-width="0.8" stroke-opacity="0.7"/>
<line x1="614.7" y1="197" x2="618.3" y2="197" stroke="#ff0000" stroke-width="0.8" stroke-opacity="0.7"/>
<polyline points="388.22,220.3 397,214.2 405.78,208.2 414.56,207.5 423.34,202.1 432.12,203.8 440.9,204.5 449.68,201.4 458.46,198.5 467.24,198.9 476.02,200.3 484.8,199.6 493.58,198.4 502.36,196.3 511.14,200.1 519.92,198.2 528.7,197.2 537.48,196.1 546.26,194.8 555.04,193.5 563.82,191.6 572.6,194.8 581.38,197.2 590.16,192.1 598.94,191.1 607.72,196.9 616.5,194" fill="none" stroke="#ff0000" stroke-width="1.25" stroke-opacity="1" stroke-linecap="round" stroke-linejoin="round"/>
<rect x="386.62" y="218.7" width="3.2" height="3.2" fill="#ff0000"/>
<rect x="395.4" y="212.6" width="3.2" height="3.2" fill="#ff0000"/>
<rect x="404.18" y="206.6" width="3.2" height="3.2" fill="#ff0000"/>
<rect x="412.96" y="205.9" width="3.2" height="3.2" fill="#ff0000"/>
<rect x="421.74" y="200.5" width="3.2" height="3.2" fill="#ff0000"/>
<rect x="430.52" y="202.2" width="3.2" height="3.2" fill="#ff0000"/>
<rect x="439.3" y="202.9" width="3.2" height="3.2" fill="#ff0000"/>
<rect x="448.08" y="199.8" width="3.2" height="3.2" fill="#ff0000"/>
<rect x="456.86" y="196.9" width="3.2" height="3.2" fill="#ff0000"/>
<rect x="465.64" y="197.3" width="3.2" height="3.2" fill="#ff0000"/>
<rect x="474.42" y="198.7" width="3.2" height="3.2" fill="#ff0000"/>
<rect x="483.2" y="198" width="3.2" height="3.2" fill="#ff0000"/>
<rect x="491.98" y="196.8" width="3.2" height="3.2" fill="#ff0000"/>
<rect x="500.76" y="194.7" width="3.2" height="3.2" fill="#ff0000"/>
<rect x="509.54" y="198.5" width="3.2" height="3.2" fill="#ff0000"/>
<rect x="518.32" y="196.6" width="3.2" height="3.2" fill="#ff0000"/>
<rect x="527.1" y="195.6" width="3.2" height="3.2" fill="#ff0000"/>
<rect x="535.88" y="194.5" width="3.2" height="3.2" fill="#ff0000"/>
<rect x="544.66" y="193.2" width="3.2" height="3.2" fill="#ff0000"/>
<rect x="553.44" y="191.9" width="3.2" height="3.2" fill="#ff0000"/>
<rect x="562.22" y="190" width="3.2" height="3.2" fill="#ff0000"/>
<rect x="571" y="193.2" width="3.2" height="3.2" fill="#ff0000"/>
<rect x="579.78" y="195.6" width="3.2" height="3.2" fill="#ff0000"/>
<rect x="588.56" y="190.5" width="3.2" height="3.2" fill="#ff0000"/>
<rect x="597.34" y="189.5" width="3.2" height="3.2" fill="#ff0000"/>
<rect x="606.12" y="195.3" width="3.2" height="3.2" fill="#ff0000"/>
<rect x="614.9" y="192.4" width="3.2" height="3.2" fill="#ff0000"/>
<line x1="388.22" y1="220.9" x2="388.22" y2="226.9" stroke="#0000ff" stroke-width="0.8" stroke-opacity="0.7"/>
<line x1="386.42" y1="220.9" x2="390.02" y2="220.9" stroke="#0000ff" stroke-width="0.8" stroke-opacity="0.7"/>
<line x1="386.42" y1="226.9" x2="390.02" y2="226.9" stroke="#0000ff" stroke-width="0.8" stroke-opacity="0.7"/>
<polyline points="388.22,223.9 397,215 405.78,204.5 414.56,196 423.34,188 432.12,180.3 440.9,174.7 449.68,168.9 458.46,164.2 467.24,160.5 476.02,156.4 484.8,153.3 493.58,150.8 502.36,148.4 511.14,146.2 519.92,144.3 528.7,142.6 537.48,141.4 546.26,139.6 555.04,138.4 563.82,137.6 572.6,136.3 581.38,135.4 590.16,134.9 598.94,134.3 607.72,133.5 616.5,132.3" fill="none" stroke="#0000ff" stroke-width="1.25" stroke-opacity="1" stroke-linecap="round" stroke-linejoin="round"/>
<rect x="386.62" y="222.3" width="3.2" height="3.2" fill="#0000ff"/>
<rect x="395.4" y="213.4" width="3.2" height="3.2" fill="#0000ff"/>
<rect x="404.18" y="202.9" width="3.2" height="3.2" fill="#0000ff"/>
<rect x="412.96" y="194.4" width="3.2" height="3.2" fill="#0000ff"/>
<rect x="421.74" y="186.4" width="3.2" height="3.2" fill="#0000ff"/>
<rect x="430.52" y="178.7" width="3.2" height="3.2" fill="#0000ff"/>
<rect x="439.3" y="173.1" width="3.2" height="3.2" fill="#0000ff"/>
<rect x="448.08" y="167.3" width="3.2" height="3.2" fill="#0000ff"/>
<rect x="456.86" y="162.6" width="3.2" height="3.2" fill="#0000ff"/>
<rect x="465.64" y="158.9" width="3.2" height="3.2" fill="#0000ff"/>
<rect x="474.42" y="154.8" width="3.2" height="3.2" fill="#0000ff"/>
<rect x="483.2" y="151.7" width="3.2" height="3.2" fill="#0000ff"/>
<rect x="491.98" y="149.2" width="3.2" height="3.2" fill="#0000ff"/>
<rect x="500.76" y="146.8" width="3.2" height="3.2" fill="#0000ff"/>
<rect x="509.54" y="144.6" width="3.2" height="3.2" fill="#0000ff"/>
<rect x="518.32" y="142.7" width="3.2" height="3.2" fill="#0000ff"/>
<rect x="527.1" y="141" width="3.2" height="3.2" fill="#0000ff"/>
<rect x="535.88" y="139.8" width="3.2" height="3.2" fill="#0000ff"/>
<rect x="544.66" y="138" width="3.2" height="3.2" fill="#0000ff"/>
<rect x="553.44" y="136.8" width="3.2" height="3.2" fill="#0000ff"/>
<rect x="562.22" y="136" width="3.2" height="3.2" fill="#0000ff"/>
<rect x="571" y="134.7" width="3.2" height="3.2" fill="#0000ff"/>
<rect x="579.78" y="133.8" width="3.2" height="3.2" fill="#0000ff"/>
<rect x="588.56" y="133.3" width="3.2" height="3.2" fill="#0000ff"/>
<rect x="597.34" y="132.7" width="3.2" height="3.2" fill="#0000ff"/>
<rect x="606.12" y="131.9" width="3.2" height="3.2" fill="#0000ff"/>
<rect x="614.9" y="130.7" width="3.2" height="3.2" fill="#0000ff"/>
<g transform="translate(36.6,181.2) rotate(-90)">
<path d="M -4.3,-8.3 Q -7.2,-3.6 -4.3,1.0" fill="none" stroke="#0000ff" stroke-width="0.95"/>
<path d="M 4.3,-8.3 Q 7.2,-3.6 4.3,1.0" fill="none" stroke="#0000ff" stroke-width="0.95"/>
<text x="0" y="0" font-size="10" fill="#0000ff" text-anchor="middle" font-family='"Liberation Sans", sans-serif' font-style="italic">F</text>
</g>
<g transform="translate(339.8,181.2) rotate(-90)">
<path d="M -4.3,-8.3 Q -7.2,-3.6 -4.3,1.0" fill="none" stroke="#ff0000" stroke-width="0.95"/>
<path d="M 4.3,-8.3 Q 7.2,-3.6 4.3,1.0" fill="none" stroke="#ff0000" stroke-width="0.95"/>
<text x="0" y="0" font-size="10" fill="#ff0000" text-anchor="middle" font-family='"Liberation Sans", sans-serif' font-style="italic">δ</text>
</g>
<g transform="translate(353.2,181.3) rotate(-90)">
<path d="M -4.3,-8.3 Q -7.2,-3.6 -4.3,1.0" fill="none" stroke="#0000ff" stroke-width="0.95"/>
<path d="M 4.3,-8.3 Q 7.2,-3.6 4.3,1.0" fill="none" stroke="#0000ff" stroke-width="0.95"/>
<text x="0" y="0" font-size="10" fill="#0000ff" text-anchor="middle" font-family='"Liberation Sans", sans-serif' font-style="italic">F</text>
</g>
<g transform="translate(657.2,180.6) rotate(-90)">
<path d="M -4.3,-8.3 Q -7.2,-3.6 -4.3,1.0" fill="none" stroke="#ff0000" stroke-width="0.95"/>
<path d="M 4.3,-8.3 Q 7.2,-3.6 4.3,1.0" fill="none" stroke="#ff0000" stroke-width="0.95"/>
<text x="0" y="0" font-size="10" fill="#ff0000" text-anchor="middle" font-family='"Liberation Sans", sans-serif' font-style="italic">δ</text>
</g>
<text x="185.9" y="259.3" font-size="9.5" fill="#111" text-anchor="middle" font-family='"Liberation Sans", sans-serif' font-weight="normal" font-style="normal" >m</text>
<text x="502.7" y="259.3" font-size="9.5" fill="#111" text-anchor="middle" font-family='"Liberation Sans", sans-serif' font-weight="normal" font-style="normal" >m</text>
<rect x="123" y="266.2" width="7.4" height="102.1" fill="url(#arrowg)"/>
<polygon points="126.7,251.7 133.3,267.2 120.1,267.2" fill="url(#arrowg)"/>
<g opacity="1">
<line x1="210.6" y1="308.4" x2="190.4" y2="345.5" stroke="#8a8a8a" stroke-width="6.4" stroke-opacity="0.6" stroke-linecap="butt"/>
<line x1="210.6" y1="308.4" x2="198.08" y2="331.4" stroke="#b03a2a" stroke-width="5.6" stroke-opacity="1" stroke-linecap="butt"/>
<line x1="198.08" y1="331.4" x2="190.4" y2="345.5" stroke="#f4f4f4" stroke-width="5.6" stroke-opacity="1" stroke-linecap="butt"/>
<line x1="210.6" y1="308.4" x2="190.4" y2="345.5" stroke="#ffffff" stroke-width="1.68" stroke-opacity="0.18" stroke-linecap="butt"/>
</g>
<polygon points="56.6,303.6 182,286.3 225.7,321.3 100,338.5" fill="#3f937a" fill-opacity="0.52"/>
<g opacity="0.85">
<line x1="58.5" y1="310.2" x2="107.5" y2="294.2" stroke="#8a8a8a" stroke-width="4.4" stroke-opacity="0.6" stroke-linecap="butt"/>
<line x1="58.5" y1="310.2" x2="85.45" y2="301.4" stroke="#e00000" stroke-width="3.6" stroke-opacity="1" stroke-linecap="butt"/>
<line x1="85.45" y1="301.4" x2="107.5" y2="294.2" stroke="#f4f4f4" stroke-width="3.6" stroke-opacity="1" stroke-linecap="butt"/>
<line x1="58.5" y1="310.2" x2="107.5" y2="294.2" stroke="#ffffff" stroke-width="1.08" stroke-opacity="0.18" stroke-linecap="butt"/>
</g>
<g opacity="1">
<line x1="134.8" y1="288.2" x2="107.5" y2="294.2" stroke="#8a8a8a" stroke-width="5.2" stroke-opacity="0.6" stroke-linecap="butt"/>
<line x1="134.8" y1="288.2" x2="121.15" y2="291.2" stroke="#e00000" stroke-width="4.4" stroke-opacity="1" stroke-linecap="butt"/>
<line x1="121.15" y1="291.2" x2="107.5" y2="294.2" stroke="#f4f4f4" stroke-width="4.4" stroke-opacity="1" stroke-linecap="butt"/>
<line x1="134.8" y1="288.2" x2="107.5" y2="294.2" stroke="#ffffff" stroke-width="1.32" stroke-opacity="0.18" stroke-linecap="butt"/>
</g>
<g opacity="1">
<line x1="134.8" y1="288.2" x2="184" y2="302.5" stroke="#8a8a8a" stroke-width="6.2" stroke-opacity="0.6" stroke-linecap="butt"/>
<line x1="134.8" y1="288.2" x2="160.38" y2="295.64" stroke="#e00000" stroke-width="5.4" stroke-opacity="1" stroke-linecap="butt"/>
<line x1="160.38" y1="295.64" x2="184" y2="302.5" stroke="#f4f4f4" stroke-width="5.4" stroke-opacity="1" stroke-linecap="butt"/>
<line x1="134.8" y1="288.2" x2="184" y2="302.5" stroke="#ffffff" stroke-width="1.62" stroke-opacity="0.18" stroke-linecap="butt"/>
</g>
<g opacity="1">
<line x1="184" y1="302.5" x2="210.6" y2="308.4" stroke="#8a8a8a" stroke-width="5.4" stroke-opacity="0.6" stroke-linecap="butt"/>
<line x1="184" y1="302.5" x2="195.97" y2="305.15" stroke="#f0f0f0" stroke-width="4.6" stroke-opacity="1" stroke-linecap="butt"/>
<line x1="195.97" y1="305.15" x2="210.6" y2="308.4" stroke="#e00000" stroke-width="4.6" stroke-opacity="1" stroke-linecap="butt"/>
<line x1="184" y1="302.5" x2="210.6" y2="308.4" stroke="#ffffff" stroke-width="1.38" stroke-opacity="0.18" stroke-linecap="butt"/>
</g>
<circle cx="107.5" cy="294.2" r="12.4" fill="url(#big)"/>
<circle cx="184" cy="302.5" r="11.8" fill="url(#big)"/>
<circle cx="184" cy="302.5" r="11.8" fill="#3f937a" fill-opacity="0.5" clip-path="url(#lowTR)"/>
<circle cx="107.5" cy="294.2" r="12.4" fill="#3f937a" fill-opacity="0.45" clip-path="url(#lowTL)"/>
<polygon points="107.5,294.2 88,320 190.4,345.5" fill="#ffa0a0" fill-opacity="0.45"/>
<polygon points="107.5,294.2 88,320 190.4,345.5" fill="#b0948a" fill-opacity="0.75" clip-path="url(#planeL)"/>
<ellipse cx="135" cy="287.8" rx="6.1" ry="5.6" fill="url(#redb)"/>
<g opacity="1">
<line x1="58.5" y1="310.2" x2="80.2" y2="326.6" stroke="#600000" stroke-width="6.2" stroke-opacity="0.6" stroke-linecap="butt"/>
<line x1="58.5" y1="310.2" x2="74.78" y2="322.5" stroke="#b00000" stroke-width="5.4" stroke-opacity="1" stroke-linecap="butt"/>
<line x1="74.78" y1="322.5" x2="80.2" y2="326.6" stroke="#a00000" stroke-width="5.4" stroke-opacity="1" stroke-linecap="butt"/>
<line x1="58.5" y1="310.2" x2="80.2" y2="326.6" stroke="#ffffff" stroke-width="1.62" stroke-opacity="0.18" stroke-linecap="butt"/>
</g>
<g opacity="1">
<line x1="96.3" y1="327.8" x2="148.1" y2="347.7" stroke="#8a8a8a" stroke-width="5.4" stroke-opacity="0.6" stroke-linecap="butt"/>
<line x1="96.3" y1="327.8" x2="122.2" y2="337.75" stroke="#e00000" stroke-width="4.6" stroke-opacity="1" stroke-linecap="butt"/>
<line x1="122.2" y1="337.75" x2="148.1" y2="347.7" stroke="#f4f4f4" stroke-width="4.6" stroke-opacity="1" stroke-linecap="butt"/>
<line x1="96.3" y1="327.8" x2="148.1" y2="347.7" stroke="#ffffff" stroke-width="1.38" stroke-opacity="0.18" stroke-linecap="butt"/>
</g>
<g opacity="1">
<line x1="148.1" y1="347.7" x2="190.4" y2="345.5" stroke="#8a8a8a" stroke-width="5.6" stroke-opacity="0.6" stroke-linecap="butt"/>
<line x1="148.1" y1="347.7" x2="169.25" y2="346.6" stroke="#f4f4f4" stroke-width="4.8" stroke-opacity="1" stroke-linecap="butt"/>
<line x1="169.25" y1="346.6" x2="190.4" y2="345.5" stroke="#f4f4f4" stroke-width="4.8" stroke-opacity="1" stroke-linecap="butt"/>
<line x1="148.1" y1="347.7" x2="190.4" y2="345.5" stroke="#ffffff" stroke-width="1.44" stroke-opacity="0.18" stroke-linecap="butt"/>
</g>
<ellipse cx="58.5" cy="310.2" rx="5.5" ry="5.8" fill="url(#redb)"/>
<circle cx="80.2" cy="326.6" r="12" fill="url(#big)"/>
<g opacity="1">
<line x1="86.5" y1="326.8" x2="96.3" y2="327.8" stroke="#500000" stroke-width="5.4" stroke-opacity="0.6" stroke-linecap="butt"/>
<line x1="86.5" y1="326.8" x2="91.4" y2="327.3" stroke="#900000" stroke-width="4.6" stroke-opacity="1" stroke-linecap="butt"/>
<line x1="91.4" y1="327.3" x2="96.3" y2="327.8" stroke="#b00000" stroke-width="4.6" stroke-opacity="1" stroke-linecap="butt"/>
<line x1="86.5" y1="326.8" x2="96.3" y2="327.8" stroke="#ffffff" stroke-width="1.38" stroke-opacity="0.18" stroke-linecap="butt"/>
</g>
<ellipse cx="96.3" cy="327.8" rx="5.9" ry="5.4" fill="url(#redb)"/>
<circle cx="148.1" cy="347.7" r="12.4" fill="url(#big)"/>
<circle cx="190.4" cy="345.5" r="12.4" fill="url(#big)"/>
<ellipse cx="210.6" cy="308.4" rx="6.1" ry="5.7" fill="url(#redb)"/>
<line x1="107.5" y1="295" x2="190.2" y2="345.4" stroke="#ee0000" stroke-width="1.6" stroke-dasharray="3.6,2.2"/>
<line x1="107.9" y1="294.5" x2="107.9" y2="302" stroke="#1a1aff" stroke-width="1.1" stroke-dasharray="1.2,1.2"/>
<line x1="59.4" y1="307" x2="59.4" y2="314.6" stroke="#1a1aff" stroke-width="1.1" stroke-dasharray="1.2,1.2"/>
<line x1="96.5" y1="329.7" x2="96.5" y2="341.5" stroke="#1a1aff" stroke-width="1.1" stroke-dasharray="1.2,1.2"/>
<line x1="134.5" y1="286.6" x2="134.5" y2="294" stroke="#1a1aff" stroke-width="1.1" stroke-dasharray="1.2,1.2"/>
<line x1="184.1" y1="304.5" x2="184.1" y2="310" stroke="#1a1aff" stroke-width="1.1" stroke-dasharray="1.2,1.2"/>
<line x1="148.5" y1="331.8" x2="148.5" y2="347.3" stroke="#1a1aff" stroke-width="1.1" stroke-dasharray="1.2,1.2"/>
<line x1="190.2" y1="321.7" x2="190.2" y2="345.4" stroke="#1a1aff" stroke-width="1.1" stroke-dasharray="1.2,1.2"/>
<path transform="translate(147.03,265.14) scale(1.1224,1.1919)" d="M0.6,2.6 C0.4,1.2 1.6,0.3 2.6,0.9 C3.3,1.3 3.4,2.2 3.4,3 L3.4,8.2 C3.4,9.4 2.4,10 1.4,9.5 M3.4,2.2 C4.4,0.6 6.2,0.1 7.6,0.6 C8.9,1.1 8.9,3.1 7.6,4 C6.9,4.5 6,4.7 5.2,4.8 C6.6,5.1 7.3,6 7.6,7.4 C7.9,8.8 8.3,9.6 9.6,9.2" fill="none" stroke="#111" stroke-width="1.7" vector-effect="non-scaling-stroke" stroke-linecap="round"/>
<text x="158.6" y="280.3" font-family='"Liberation Serif", serif' font-size="9.5" font-style="italic" fill="#111" stroke="#111" stroke-width="0">L</text>
<text x="142.4" y="314.3" font-family='"Liberation Serif", serif' font-size="12" font-style="italic" fill="#e60000" stroke="#e60000" stroke-width="0.22">δ</text>
<text x="148.9" y="313.6" font-family='"Liberation Serif", serif' font-size="12.5" font-style="normal" fill="#e60000" stroke="#e60000" stroke-width="0.22">(</text>
<path transform="translate(152.76,305.56) scale(0.9388,0.7980)" d="M0.6,2.6 C0.4,1.2 1.6,0.3 2.6,0.9 C3.3,1.3 3.4,2.2 3.4,3 L3.4,8.2 C3.4,9.4 2.4,10 1.4,9.5 M3.4,2.2 C4.4,0.6 6.2,0.1 7.6,0.6 C8.9,1.1 8.9,3.1 7.6,4 C6.9,4.5 6,4.7 5.2,4.8 C6.6,5.1 7.3,6 7.6,7.4 C7.9,8.8 8.3,9.6 9.6,9.2" fill="none" stroke="#e60000" stroke-width="1.15" vector-effect="non-scaling-stroke" stroke-linecap="round"/>
<text x="161.8" y="315.9" font-family='"Liberation Serif", serif' font-size="7.5" font-style="italic" fill="#e60000" stroke="#e60000" stroke-width="0.05">L</text>
<text x="169.8" y="313.6" font-family='"Liberation Serif", serif' font-size="12.5" font-style="normal" fill="#e60000" stroke="#e60000" stroke-width="0.22">)</text>
<g opacity="1">
<line x1="414.2" y1="272.2" x2="444.6" y2="285.8" stroke="#9a7a72" stroke-width="8.3" stroke-opacity="0.6" stroke-linecap="butt"/>
<line x1="414.2" y1="272.2" x2="429.4" y2="279" stroke="#d9aaa2" stroke-width="7.5" stroke-opacity="1" stroke-linecap="butt"/>
<line x1="429.4" y1="279" x2="444.6" y2="285.8" stroke="#d9aaa2" stroke-width="7.5" stroke-opacity="1" stroke-linecap="butt"/>
<line x1="414.2" y1="272.2" x2="444.6" y2="285.8" stroke="#ffffff" stroke-width="2.25" stroke-opacity="0.18" stroke-linecap="butt"/>
</g>
<circle cx="444.6" cy="285.8" r="11" fill="url(#big)"/>
<g opacity="1">
<line x1="444.6" y1="285.8" x2="476.6" y2="306.5" stroke="#8a6a62" stroke-width="8.8" stroke-opacity="0.6" stroke-linecap="butt"/>
<line x1="444.6" y1="285.8" x2="460.6" y2="296.15" stroke="#c99a90" stroke-width="8" stroke-opacity="1" stroke-linecap="butt"/>
<line x1="460.6" y1="296.15" x2="476.6" y2="306.5" stroke="#c99a90" stroke-width="8" stroke-opacity="1" stroke-linecap="butt"/>
<line x1="444.6" y1="285.8" x2="476.6" y2="306.5" stroke="#ffffff" stroke-width="2.4" stroke-opacity="0.18" stroke-linecap="butt"/>
</g>
<circle cx="476.6" cy="306.5" r="10.3" fill="url(#big)"/>
<g opacity="1">
<line x1="476.6" y1="306.5" x2="490.8" y2="308.8" stroke="#8a6a62" stroke-width="7.3" stroke-opacity="0.6" stroke-linecap="butt"/>
<line x1="476.6" y1="306.5" x2="483.7" y2="307.65" stroke="#c99a90" stroke-width="6.5" stroke-opacity="1" stroke-linecap="butt"/>
<line x1="483.7" y1="307.65" x2="490.8" y2="308.8" stroke="#e00000" stroke-width="6.5" stroke-opacity="1" stroke-linecap="butt"/>
<line x1="476.6" y1="306.5" x2="490.8" y2="308.8" stroke="#ffffff" stroke-width="1.95" stroke-opacity="0.18" stroke-linecap="butt"/>
</g>
<circle cx="516" cy="308.5" r="10.2" fill="url(#big)"/>
<g opacity="1">
<line x1="490.8" y1="308.8" x2="516" y2="308.5" stroke="#8a8a8a" stroke-width="5" stroke-opacity="0.6" stroke-linecap="butt"/>
<line x1="490.8" y1="308.8" x2="503.4" y2="308.65" stroke="#e00000" stroke-width="4.2" stroke-opacity="1" stroke-linecap="butt"/>
<line x1="503.4" y1="308.65" x2="516" y2="308.5" stroke="#f0f0f0" stroke-width="4.2" stroke-opacity="1" stroke-linecap="butt"/>
<line x1="490.8" y1="308.8" x2="516" y2="308.5" stroke="#ffffff" stroke-width="1.26" stroke-opacity="0.18" stroke-linecap="butt"/>
</g>
<polygon points="379.7,287.8 513.4,286.2 519.5,318.8 379.7,320.6" fill="#3f937a" fill-opacity="0.52"/>
<polygon points="414.2,272.2 490.8,308.8 458.6,343.5" fill="#ffa0a0" fill-opacity="0.45"/>
<polygon points="414.2,272.2 490.8,308.8 458.6,343.5" fill="#b59a8e" fill-opacity="0.6" clip-path="url(#planeR)"/>
<polyline points="425,277.5 444.6,285.8 476.6,306.5 486,308.5" fill="none" stroke="#b88a80" stroke-width="7.5" stroke-opacity="0.55" stroke-linejoin="round"/>
<g opacity="0.8">
<rect x="439" y="265.5" width="5.8" height="103" fill="url(#arrowg)"/>
<polygon points="441.9,255 448.3,266.5 435.5,266.5" fill="url(#arrowg)"/>
</g>
<ellipse cx="490.8" cy="308.8" rx="6" ry="5.4" fill="url(#redb)"/>
<g opacity="1">
<line x1="414.2" y1="272.2" x2="384.8" y2="312.5" stroke="#8a8a8a" stroke-width="6" stroke-opacity="0.6" stroke-linecap="butt"/>
<line x1="414.2" y1="272.2" x2="401.85" y2="289.13" stroke="#f4f4f4" stroke-width="5.2" stroke-opacity="1" stroke-linecap="butt"/>
<line x1="401.85" y1="289.13" x2="384.8" y2="312.5" stroke="#e00000" stroke-width="5.2" stroke-opacity="1" stroke-linecap="butt"/>
<line x1="414.2" y1="272.2" x2="384.8" y2="312.5" stroke="#ffffff" stroke-width="1.56" stroke-opacity="0.18" stroke-linecap="butt"/>
</g>
<g opacity="1">
<line x1="384.8" y1="312.5" x2="398.4" y2="331.4" stroke="#8a8a8a" stroke-width="5" stroke-opacity="0.6" stroke-linecap="butt"/>
<line x1="384.8" y1="312.5" x2="391.6" y2="321.95" stroke="#a00000" stroke-width="4.2" stroke-opacity="1" stroke-linecap="butt"/>
<line x1="391.6" y1="321.95" x2="398.4" y2="331.4" stroke="#f0f0f0" stroke-width="4.2" stroke-opacity="1" stroke-linecap="butt"/>
<line x1="384.8" y1="312.5" x2="398.4" y2="331.4" stroke="#ffffff" stroke-width="1.26" stroke-opacity="0.18" stroke-linecap="butt"/>
</g>
<g opacity="1">
<line x1="398.4" y1="331.4" x2="458.6" y2="343.5" stroke="#8a8a8a" stroke-width="5.6" stroke-opacity="0.6" stroke-linecap="butt"/>
<line x1="398.4" y1="331.4" x2="428.5" y2="337.45" stroke="#f4f4f4" stroke-width="4.8" stroke-opacity="1" stroke-linecap="butt"/>
<line x1="428.5" y1="337.45" x2="458.6" y2="343.5" stroke="#f4f4f4" stroke-width="4.8" stroke-opacity="1" stroke-linecap="butt"/>
<line x1="398.4" y1="331.4" x2="458.6" y2="343.5" stroke="#ffffff" stroke-width="1.44" stroke-opacity="0.18" stroke-linecap="butt"/>
</g>
<g opacity="1">
<line x1="458.6" y1="343.5" x2="511.3" y2="327.3" stroke="#8a8a8a" stroke-width="5.6" stroke-opacity="0.6" stroke-linecap="butt"/>
<line x1="458.6" y1="343.5" x2="484.95" y2="335.4" stroke="#f4f4f4" stroke-width="4.8" stroke-opacity="1" stroke-linecap="butt"/>
<line x1="484.95" y1="335.4" x2="511.3" y2="327.3" stroke="#f4f4f4" stroke-width="4.8" stroke-opacity="1" stroke-linecap="butt"/>
<line x1="458.6" y1="343.5" x2="511.3" y2="327.3" stroke="#ffffff" stroke-width="1.44" stroke-opacity="0.18" stroke-linecap="butt"/>
</g>
<circle cx="414.2" cy="272.2" r="12.2" fill="url(#big)"/>
<ellipse cx="384.8" cy="312.5" rx="5.8" ry="5.5" fill="url(#redb)"/>
<circle cx="398.4" cy="331.4" r="12.2" fill="url(#big)"/>
<circle cx="458.6" cy="343.5" r="12.4" fill="url(#big)"/>
<circle cx="511.3" cy="327.3" r="12.2" fill="url(#big)"/>
<line x1="414.2" y1="272.2" x2="458.5" y2="344" stroke="#ee0000" stroke-width="1.6" stroke-dasharray="3.6,2.2"/>
<line x1="414.2" y1="273.3" x2="414.2" y2="304.6" stroke="#1a1aff" stroke-width="1.1" stroke-dasharray="1.2,1.2"/>
<line x1="399" y1="317.5" x2="399" y2="333" stroke="#1a1aff" stroke-width="1.1" stroke-dasharray="1.2,1.2"/>
<line x1="458.5" y1="317" x2="458.5" y2="344" stroke="#1a1aff" stroke-width="1.1" stroke-dasharray="1.2,1.2"/>
<line x1="477.4" y1="285" x2="477.4" y2="305.6" stroke="#1a1aff" stroke-width="1.1" stroke-dasharray="1.2,1.2"/>
<line x1="444" y1="287" x2="444" y2="295" stroke="#1a1aff" stroke-width="1.1" stroke-dasharray="1.2,1.2"/>
<line x1="515.6" y1="299" x2="515.6" y2="312" stroke="#1a1aff" stroke-width="1.1" stroke-dasharray="1.2,1.2"/>
<line x1="511.3" y1="316.3" x2="511.3" y2="328.2" stroke="#1a1aff" stroke-width="1.1" stroke-dasharray="1.2,1.2"/>
<path transform="translate(463.03,262.54) scale(1.1429,1.1515)" d="M0.6,2.6 C0.4,1.2 1.6,0.3 2.6,0.9 C3.3,1.3 3.4,2.2 3.4,3 L3.4,8.2 C3.4,9.4 2.4,10 1.4,9.5 M3.4,2.2 C4.4,0.6 6.2,0.1 7.6,0.6 C8.9,1.1 8.9,3.1 7.6,4 C6.9,4.5 6,4.7 5.2,4.8 C6.6,5.1 7.3,6 7.6,7.4 C7.9,8.8 8.3,9.6 9.6,9.2" fill="none" stroke="#111" stroke-width="1.7" vector-effect="non-scaling-stroke" stroke-linecap="round"/>
<text x="475" y="276.9" font-family='"Liberation Serif", serif' font-size="9.5" font-style="italic" fill="#111" stroke="#111" stroke-width="0">H</text>
<text x="401.2" y="316.2" font-family='"Liberation Serif", serif' font-size="12.5" font-style="italic" fill="#e60000" stroke="#e60000" stroke-width="0.22">δ</text>
<text x="408.2" y="315.4" font-family='"Liberation Serif", serif' font-size="12.5" font-style="normal" fill="#e60000" stroke="#e60000" stroke-width="0.22">(</text>
<path transform="translate(413.16,307.36) scale(0.9592,0.7980)" d="M0.6,2.6 C0.4,1.2 1.6,0.3 2.6,0.9 C3.3,1.3 3.4,2.2 3.4,3 L3.4,8.2 C3.4,9.4 2.4,10 1.4,9.5 M3.4,2.2 C4.4,0.6 6.2,0.1 7.6,0.6 C8.9,1.1 8.9,3.1 7.6,4 C6.9,4.5 6,4.7 5.2,4.8 C6.6,5.1 7.3,6 7.6,7.4 C7.9,8.8 8.3,9.6 9.6,9.2" fill="none" stroke="#e60000" stroke-width="1.15" vector-effect="non-scaling-stroke" stroke-linecap="round"/>
<text x="423" y="316.7" font-family='"Liberation Serif", serif' font-size="7.5" font-style="italic" fill="#e60000" stroke="#e60000" stroke-width="0.05">H</text>
<text x="432.2" y="315.4" font-family='"Liberation Serif", serif' font-size="12.5" font-style="normal" fill="#e60000" stroke="#e60000" stroke-width="0.22">)</text>
<text x="235.9" y="307.3" font-family='"Liberation Serif", serif' font-size="13.5" font-style="italic" fill="#111" stroke="#111" stroke-width="0.22">δ</text>
<text x="243.9" y="307.6" font-family='"Liberation Serif", serif' font-size="14.2" font-style="normal" fill="#111" stroke="#111" stroke-width="0.22">(</text>
<path transform="translate(248.05,299.56) scale(1.0204,0.8687)" d="M0.6,2.6 C0.4,1.2 1.6,0.3 2.6,0.9 C3.3,1.3 3.4,2.2 3.4,3 L3.4,8.2 C3.4,9.4 2.4,10 1.4,9.5 M3.4,2.2 C4.4,0.6 6.2,0.1 7.6,0.6 C8.9,1.1 8.9,3.1 7.6,4 C6.9,4.5 6,4.7 5.2,4.8 C6.6,5.1 7.3,6 7.6,7.4 C7.9,8.8 8.3,9.6 9.6,9.2" fill="none" stroke="#111" stroke-width="1.3" vector-effect="non-scaling-stroke" stroke-linecap="round"/>
<text x="258.9" y="310.3" font-family='"Liberation Serif", serif' font-size="8.8" font-style="italic" fill="#111" stroke="#111" stroke-width="0.05" textLength="6.4" lengthAdjust="spacingAndGlyphs">L</text>
<text x="266.9" y="307.6" font-family='"Liberation Serif", serif' font-size="14.2" font-style="normal" fill="#111" stroke="#111" stroke-width="0.22">)</text>
<rect x="277.6" y="301.1" width="8.6" height="0.95" fill="#111"/><rect x="277.6" y="304.5" width="8.6" height="0.95" fill="#111"/>
<text x="291.2" y="307.3" font-family='"Liberation Serif", serif' font-size="12.8" font-style="normal" fill="#111" stroke="#111" stroke-width="0.22" textLength="25.4" lengthAdjust="spacingAndGlyphs">3.61</text>
<text x="234.9" y="328.2" font-family='"Liberation Serif", serif' font-size="13.2" font-style="italic" fill="#111" stroke="#111" stroke-width="0.22">F</text>
<text x="243.9" y="328.5" font-family='"Liberation Serif", serif' font-size="14.2" font-style="normal" fill="#111" stroke="#111" stroke-width="0.22">(</text>
<path transform="translate(248.05,320.46) scale(1.0204,0.8687)" d="M0.6,2.6 C0.4,1.2 1.6,0.3 2.6,0.9 C3.3,1.3 3.4,2.2 3.4,3 L3.4,8.2 C3.4,9.4 2.4,10 1.4,9.5 M3.4,2.2 C4.4,0.6 6.2,0.1 7.6,0.6 C8.9,1.1 8.9,3.1 7.6,4 C6.9,4.5 6,4.7 5.2,4.8 C6.6,5.1 7.3,6 7.6,7.4 C7.9,8.8 8.3,9.6 9.6,9.2" fill="none" stroke="#111" stroke-width="1.3" vector-effect="non-scaling-stroke" stroke-linecap="round"/>
<text x="258.9" y="331.2" font-family='"Liberation Serif", serif' font-size="8.8" font-style="italic" fill="#111" stroke="#111" stroke-width="0.05" textLength="6.4" lengthAdjust="spacingAndGlyphs">L</text>
<text x="266.9" y="328.5" font-family='"Liberation Serif", serif' font-size="14.2" font-style="normal" fill="#111" stroke="#111" stroke-width="0.22">)</text>
<rect x="277.6" y="322" width="8.6" height="0.95" fill="#111"/><rect x="277.6" y="325.4" width="8.6" height="0.95" fill="#111"/>
<text x="291.2" y="328.2" font-family='"Liberation Serif", serif' font-size="12.8" font-style="normal" fill="#111" stroke="#111" stroke-width="0.22" textLength="25.4" lengthAdjust="spacingAndGlyphs">0.21</text>
<text x="544.1" y="307.3" font-family='"Liberation Serif", serif' font-size="13.5" font-style="italic" fill="#111" stroke="#111" stroke-width="0.22">δ</text>
<text x="552.1" y="307.6" font-family='"Liberation Serif", serif' font-size="14.2" font-style="normal" fill="#111" stroke="#111" stroke-width="0.22">(</text>
<path transform="translate(556.25,299.56) scale(1.0204,0.8687)" d="M0.6,2.6 C0.4,1.2 1.6,0.3 2.6,0.9 C3.3,1.3 3.4,2.2 3.4,3 L3.4,8.2 C3.4,9.4 2.4,10 1.4,9.5 M3.4,2.2 C4.4,0.6 6.2,0.1 7.6,0.6 C8.9,1.1 8.9,3.1 7.6,4 C6.9,4.5 6,4.7 5.2,4.8 C6.6,5.1 7.3,6 7.6,7.4 C7.9,8.8 8.3,9.6 9.6,9.2" fill="none" stroke="#111" stroke-width="1.3" vector-effect="non-scaling-stroke" stroke-linecap="round"/>
<text x="567.1" y="310.3" font-family='"Liberation Serif", serif' font-size="8.8" font-style="italic" fill="#111" stroke="#111" stroke-width="0.05" textLength="8" lengthAdjust="spacingAndGlyphs">H</text>
<text x="576.7" y="307.6" font-family='"Liberation Serif", serif' font-size="14.2" font-style="normal" fill="#111" stroke="#111" stroke-width="0.22">)</text>
<rect x="587.4" y="301.1" width="8.6" height="0.95" fill="#111"/><rect x="587.4" y="304.5" width="8.6" height="0.95" fill="#111"/>
<text x="601" y="307.3" font-family='"Liberation Serif", serif' font-size="12.8" font-style="normal" fill="#111" stroke="#111" stroke-width="0.22" textLength="25.4" lengthAdjust="spacingAndGlyphs">3.05</text>
<text x="543.1" y="328.2" font-family='"Liberation Serif", serif' font-size="13.2" font-style="italic" fill="#111" stroke="#111" stroke-width="0.22">F</text>
<text x="552.1" y="328.5" font-family='"Liberation Serif", serif' font-size="14.2" font-style="normal" fill="#111" stroke="#111" stroke-width="0.22">(</text>
<path transform="translate(556.25,320.46) scale(1.0204,0.8687)" d="M0.6,2.6 C0.4,1.2 1.6,0.3 2.6,0.9 C3.3,1.3 3.4,2.2 3.4,3 L3.4,8.2 C3.4,9.4 2.4,10 1.4,9.5 M3.4,2.2 C4.4,0.6 6.2,0.1 7.6,0.6 C8.9,1.1 8.9,3.1 7.6,4 C6.9,4.5 6,4.7 5.2,4.8 C6.6,5.1 7.3,6 7.6,7.4 C7.9,8.8 8.3,9.6 9.6,9.2" fill="none" stroke="#111" stroke-width="1.3" vector-effect="non-scaling-stroke" stroke-linecap="round"/>
<text x="567.1" y="331.2" font-family='"Liberation Serif", serif' font-size="8.8" font-style="italic" fill="#111" stroke="#111" stroke-width="0.05" textLength="8" lengthAdjust="spacingAndGlyphs">H</text>
<text x="576.7" y="328.5" font-family='"Liberation Serif", serif' font-size="14.2" font-style="normal" fill="#111" stroke="#111" stroke-width="0.22">)</text>
<rect x="587.4" y="322" width="8.6" height="0.95" fill="#111"/><rect x="587.4" y="325.4" width="8.6" height="0.95" fill="#111"/>
<text x="601" y="328.2" font-family='"Liberation Serif", serif' font-size="12.8" font-style="normal" fill="#111" stroke="#111" stroke-width="0.22" textLength="25.4" lengthAdjust="spacingAndGlyphs">0.46</text>
</svg></body></html>
